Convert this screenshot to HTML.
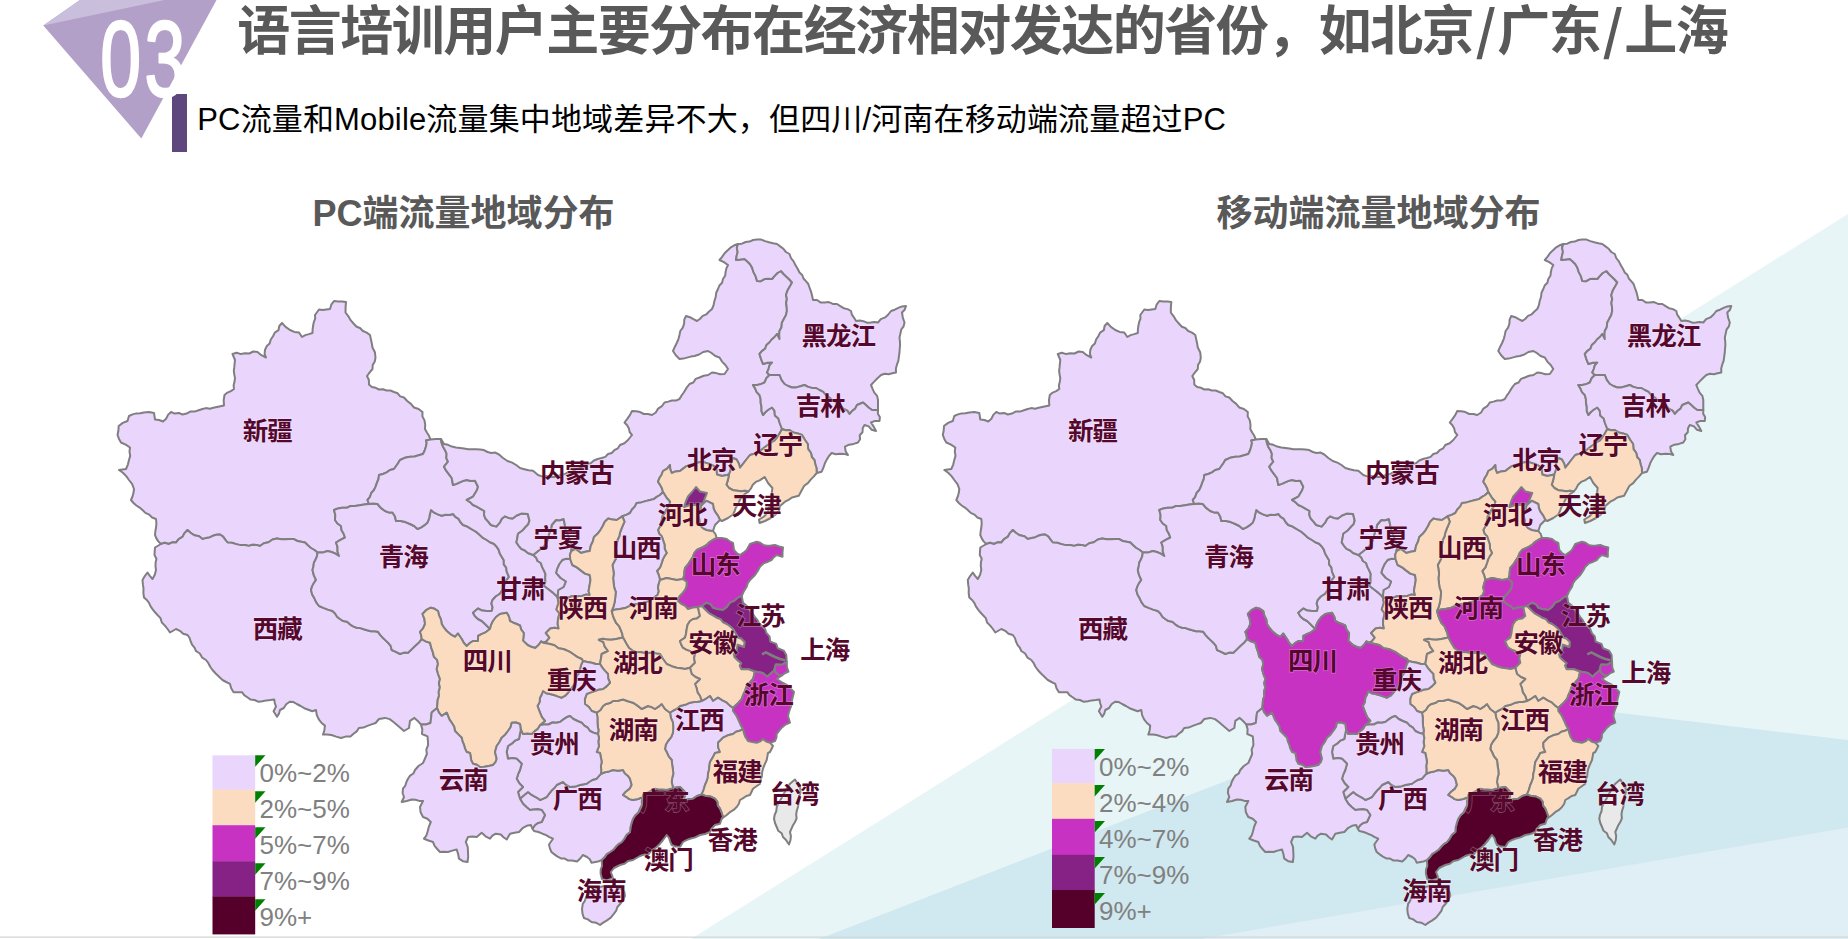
<!DOCTYPE html>
<html lang="zh-CN"><head><meta charset="utf-8"><title>语言培训用户地域分布</title>
<style>
html,body{margin:0;padding:0;background:#fff}
body{width:1848px;height:939px;position:relative;overflow:hidden;font-family:"Liberation Sans","Noto Sans CJK SC",sans-serif}
svg{position:absolute;left:0;top:0}
.lb text{letter-spacing:-1px;font:700 25.5px "Liberation Sans","Noto Sans CJK SC",sans-serif;fill:#55082b;text-anchor:middle;paint-order:stroke;stroke:rgba(255,255,255,.28);stroke-width:1.6px}
.lg{font:26px "Liberation Sans","Noto Sans CJK SC",sans-serif;fill:#808080}
#title{position:absolute;left:237.3px;top:-11.5px;font-size:53px;font-weight:700;color:#595959;white-space:nowrap;line-height:76px;letter-spacing:-1.5px}
#sub{position:absolute;left:197.3px;top:98px;font-size:31px;letter-spacing:.15px;color:#000;white-space:nowrap;line-height:44px}
.sl{display:inline-block;width:24px;text-align:center;font-family:"Noto Sans CJK SC",sans-serif}
.mt{position:absolute;top:191.2px;font-size:36px;font-weight:700;color:#595959;white-space:nowrap;line-height:46px;transform:translateX(-50%)}
</style></head><body>
<svg width="1848" height="939" viewBox="0 0 1848 939">
<polygon points="691,939 1848,214 1848,939" fill="#e7f5f7"/>
<polygon points="819,939 1452,693 1848,740 1848,939" fill="#d0e8ef"/>
<polygon points="1201,939 1848,827.5 1848,939" fill="#e0eef6"/>
<rect x="0" y="936.5" width="1848" height="1.3" fill="#d6d6d6"/>
<polygon points="43.3,25.5 80,0 216.5,0 141.3,138.5" fill="#b2a0c8"/>
<polygon points="43.3,25.5 80,0 164.5,0" fill="#c9bedb"/>
<rect x="172" y="94" width="15" height="58" fill="#5e477c"/>
<text x="0" y="96.4" transform="translate(100.3,0) scale(0.68,1)" font-family="Liberation Sans,sans-serif" font-size="108" letter-spacing="4.9" fill="#fff" stroke="#fff" stroke-width="2.2" vector-effect="non-scaling-stroke" stroke-linejoin="round">03</text>
<g transform="translate(0,0)" stroke="#7f7f7f" stroke-width="2" stroke-linejoin="round">
<path fill="#ead5fd" d="M161.0,544.0 158.3,541.4 156.4,538.4 155.0,535.0 155.4,531.0 156.1,527.0 156.4,523.0 156.0,519.0 152.1,517.5 149.2,514.6 145.4,512.9 142.5,510.0 139.6,507.6 136.4,505.5 133.5,503.0 131.0,500.0 132.5,496.5 133.5,492.8 134.0,489.0 132.2,484.1 129.0,480.0 126.2,476.1 122.9,472.7 119.0,470.0 126.0,469.0 127.9,464.6 129.0,460.0 130.2,455.9 129.5,451.7 130.0,447.5 125.7,444.6 121.0,442.5 119.0,438.9 117.5,435.0 118.4,430.5 118.7,426.0 122.8,422.9 127.5,421.0 129.0,416.0 132.6,414.4 136.3,413.4 140.2,413.3 144.0,412.5 149.0,412.1 154.0,413.0 155.0,419.5 159.1,420.0 163.0,421.5 166.1,418.7 168.0,414.9 171.0,412.0 174.7,413.6 178.8,412.9 182.5,414.5 186.6,413.6 190.3,411.6 194.6,411.6 198.6,410.3 202.5,409.0 206.0,408.1 209.8,408.7 213.3,407.8 216.9,407.0 220.4,406.3 224.0,405.5 223.7,400.2 224.5,395.0 227.4,392.6 230.9,391.1 234.0,389.0 233.6,385.4 234.5,381.8 235.0,378.1 234.3,374.5 233.8,370.8 234.3,367.2 234.6,363.6 235.0,360.0 232.5,354.0 236.6,352.8 240.9,354.1 245.0,353.3 249.2,353.5 253.3,351.5 257.5,352.0 261.4,355.2 266.0,357.5 264.6,353.9 265.0,350.0 266.6,346.3 269.6,343.5 270.8,339.5 273.0,336.2 274.8,332.6 278.5,330.2 279.3,326.0 282.0,323.0 285.6,326.9 290.0,330.0 294.3,331.9 299.0,332.5 302.0,337.0 305.3,335.1 308.9,334.1 312.5,333.0 312.6,329.3 313.1,325.7 313.8,322.2 315.2,318.7 315.0,315.0 319.0,309.5 322.7,310.1 326.3,309.5 330.0,309.0 331.3,304.7 334.0,301.0 338.0,301.5 342.0,301.6 346.0,302.0 345.6,307.2 345.5,312.5 348.4,316.3 350.8,320.4 354.0,324.0 356.6,326.7 360.0,328.0 362.9,331.0 366.7,332.6 370.0,335.0 370.9,339.2 371.8,343.3 372.5,347.5 374.9,352.2 375.5,357.5 374.8,361.4 372.7,365.0 372.5,369.0 369.7,372.4 367.0,376.0 368.9,380.0 369.0,384.5 371.9,387.0 375.7,387.8 379.0,389.5 382.9,389.2 386.5,390.5 390.4,390.5 394.0,392.0 397.6,393.3 400.2,396.4 404.0,397.5 407.2,401.0 410.9,403.9 414.0,407.5 418.6,409.0 422.5,412.0 422.4,416.4 424.5,420.4 425.2,424.6 425.0,429.0 426.9,432.5 429.0,435.8 430.5,439.5 426.0,440.5 426.7,443.0 425.9,446.8 424.7,450.5 423.0,454.0 418.7,455.2 414.5,456.5 410.0,456.7 404.8,457.8 400.0,460.0 398.2,463.1 396.1,466.0 394.0,469.0 390.0,470.0 386.7,472.4 383.0,474.0 379.0,475.0 378.5,479.0 377.0,482.7 375.7,486.4 374.0,490.0 371.3,493.0 370.0,496.9 367.5,500.0 369.0,504.0 364.3,504.4 359.7,505.3 355.0,506.0 350.6,506.0 346.6,507.8 342.3,507.8 338.0,508.4 334.0,510.0 335.3,514.9 335.0,520.0 337.5,523.5 341.0,526.0 341.5,530.1 343.6,533.7 345.0,537.5 340.4,539.8 336.0,542.5 337.5,546.9 337.5,551.6 339.0,556.0 335.4,553.7 331.6,552.0 327.5,551.0 322.6,552.6 317.5,552.5 314.4,550.0 310.9,548.0 307.8,545.3 305.0,542.5 301.2,541.7 297.4,541.0 293.9,539.1 290.0,539.0 285.6,539.2 281.3,539.3 276.9,538.6 272.5,539.5 268.6,542.2 263.9,543.3 260.0,546.0 256.3,544.9 252.5,544.8 248.7,545.9 245.0,545.0 240.5,545.1 236.2,544.1 231.9,542.7 227.5,542.5 225.2,539.6 223.1,536.6 220.0,534.5 216.3,534.8 212.9,535.8 209.5,537.4 206.0,538.1 202.5,539.0 199.1,536.2 194.5,535.3 190.8,533.0 187.5,530.0 184.6,533.1 182.4,536.9 178.7,539.2 176.0,542.5 172.2,542.3 168.6,544.0 164.7,542.8Z"/>
<path fill="#ead5fd" d="M161.0,544.0 164.7,542.8 168.6,544.0 172.2,542.3 176.0,542.5 178.7,539.2 182.4,536.9 184.6,533.1 187.5,530.0 190.8,533.0 194.5,535.3 199.1,536.2 202.5,539.0 206.0,538.1 209.5,537.4 212.9,535.8 216.3,534.8 220.0,534.5 223.1,536.6 225.2,539.6 227.5,542.5 231.9,542.7 236.2,544.1 240.5,545.1 245.0,545.0 248.7,545.9 252.5,544.8 256.3,544.9 260.0,546.0 263.9,543.3 268.6,542.2 272.5,539.5 276.9,538.6 281.3,539.3 285.6,539.2 290.0,539.0 293.9,539.1 297.4,541.0 301.2,541.7 305.0,542.5 307.8,545.3 310.9,548.0 314.4,550.0 317.5,552.5 317.0,556.2 315.6,559.5 313.9,562.8 313.4,566.5 312.5,570.0 313.8,575.2 316.0,580.0 313.8,583.1 312.1,586.4 311.0,590.0 312.2,594.4 314.4,598.3 316.3,602.4 319.0,606.0 323.4,607.9 327.9,609.6 332.5,611.0 335.1,613.5 337.1,616.7 340.0,619.0 343.2,621.1 347.1,621.7 350.0,624.3 353.1,626.4 356.7,627.7 360.3,628.1 363.7,629.3 367.2,630.3 370.8,631.2 374.4,631.2 378.0,631.8 380.2,634.8 382.6,637.6 385.3,640.1 388.0,642.7 390.7,645.9 391.7,650.0 395.9,651.8 400.0,654.0 403.9,652.6 408.0,652.7 411.5,649.4 415.0,646.0 418.6,642.8 421.7,639.0 425.6,641.4 430.0,642.7 431.3,647.8 433.0,652.7 433.9,656.8 437.1,659.9 438.0,664.0 436.7,669.0 438.1,674.1 440.0,679.0 438.9,683.2 439.9,687.5 438.7,691.7 439.0,696.0 437.7,699.9 437.4,704.0 437.0,708.0 431.7,712.5 431.1,717.8 430.5,723.0 425.8,724.5 420.9,724.4 417.8,721.0 414.4,717.9 410.0,720.9 409.0,728.0 404.0,731.0 400.5,728.0 397.0,725.0 393.5,722.0 389.7,719.1 385.0,717.9 379.0,719.0 375.6,723.0 371.5,724.4 367.4,725.9 363.3,727.6 358.9,728.0 356.7,731.4 353.5,733.8 350.5,736.4 345.6,736.6 341.0,738.0 336.2,736.6 331.4,735.0 327.2,734.4 323.0,734.6 324.4,730.2 324.9,725.6 321.6,723.0 319.0,719.7 316.8,715.1 316.0,710.0 312.3,711.3 308.3,709.7 304.3,708.2 300.6,706.0 296.8,704.0 293.5,702.1 289.7,701.8 286.2,704.3 283.8,708.0 280.0,710.0 279.0,713.6 277.0,716.7 273.6,711.3 276.0,706.5 274.8,703.0 274.2,699.4 270.3,700.1 266.4,700.4 262.5,701.3 258.6,701.8 254.6,700.0 250.3,699.4 247.3,697.3 244.2,695.2 242.0,692.2 237.8,692.2 233.6,692.2 231.2,688.3 230.0,683.9 226.2,682.0 222.5,680.0 219.1,676.7 215.7,673.5 212.5,670.0 210.2,666.7 208.4,663.2 206.0,660.0 202.1,657.6 199.8,653.5 196.0,651.0 194.5,647.7 192.2,644.8 190.7,641.5 189.6,638.0 187.5,635.0 183.2,633.8 179.9,630.8 176.0,629.0 170.0,632.5 167.6,629.0 164.9,625.6 161.8,622.5 160.5,618.1 157.5,615.0 155.0,612.3 152.7,609.4 150.6,606.4 149.0,602.9 146.8,600.0 144.0,597.5 143.4,593.1 143.5,588.7 142.9,584.4 142.5,580.0 144.8,576.1 147.5,572.5 149.8,575.9 152.5,579.0 154.8,574.7 156.0,570.0 155.5,566.3 155.6,562.5 156.4,558.7 154.5,555.0 154.7,551.3 155.0,547.5Z"/>
<path fill="#ead5fd" d="M317.5,552.5 322.6,552.6 327.5,551.0 331.6,552.0 335.4,553.7 339.0,556.0 337.5,551.6 337.5,546.9 336.0,542.5 340.4,539.8 345.0,537.5 343.6,533.7 341.5,530.1 341.0,526.0 337.5,523.5 335.0,520.0 335.3,514.9 334.0,510.0 338.0,508.4 342.3,507.8 346.6,507.8 350.6,506.0 355.0,506.0 359.7,505.3 364.3,504.4 369.0,504.0 373.2,503.4 377.5,504.0 380.8,507.9 385.0,511.0 388.6,512.4 392.5,512.5 395.0,516.5 396.0,521.0 400.9,521.1 405.5,522.1 410.0,524.0 414.1,526.0 417.5,529.0 421.2,527.4 424.5,525.2 427.5,522.5 429.1,518.4 429.9,514.2 431.0,510.0 434.2,512.7 437.8,514.4 441.7,515.8 445.4,514.7 449.3,515.0 453.0,514.0 455.4,516.9 458.6,518.9 460.5,522.3 463.0,525.0 466.6,526.2 469.8,528.1 473.0,530.0 476.6,532.2 479.8,535.1 483.0,537.9 486.7,540.0 490.0,542.3 493.8,543.8 496.7,546.7 498.7,549.9 499.8,553.5 501.7,556.7 503.8,560.2 503.8,564.3 506.2,567.7 506.7,571.7 509.0,577.0 506.7,579.9 505.3,583.3 503.4,586.4 502.5,590.0 499.8,593.9 495.7,596.5 492.5,600.0 491.4,603.6 492.6,607.4 491.7,611.0 486.7,611.0 482.1,610.6 478.0,608.5 473.0,612.7 475.0,616.2 478.0,619.0 481.8,621.0 485.0,624.0 490.0,629.0 485.0,632.7 481.4,634.2 478.0,636.0 478.0,641.0 473.0,641.0 469.6,643.2 466.7,646.0 463.7,642.8 461.7,639.0 458.0,633.5 455.0,636.8 450.6,634.3 446.7,631.0 444.0,627.7 441.7,624.0 441.0,619.5 439.0,615.4 438.0,611.0 434.6,608.8 430.8,607.7 426.1,610.2 422.5,614.0 424.4,618.8 425.0,624.0 423.1,628.3 420.0,631.8 421.2,635.3 421.7,639.0 418.6,642.8 415.0,646.0 411.5,649.4 408.0,652.7 403.9,652.6 400.0,654.0 395.9,651.8 391.7,650.0 390.7,645.9 388.0,642.7 385.3,640.1 382.6,637.6 380.2,634.8 378.0,631.8 374.4,631.2 370.8,631.2 367.2,630.3 363.7,629.3 360.3,628.1 356.7,627.7 353.1,626.4 350.0,624.3 347.1,621.7 343.2,621.1 340.0,619.0 337.1,616.7 335.1,613.5 332.5,611.0 327.9,609.6 323.4,607.9 319.0,606.0 316.3,602.4 314.4,598.3 312.2,594.4 311.0,590.0 312.1,586.4 313.8,583.1 316.0,580.0 313.8,575.2 312.5,570.0 313.4,566.5 313.9,562.8 315.6,559.5 317.0,556.2Z"/>
<path fill="#ead5fd" d="M369.0,504.0 367.5,500.0 370.0,496.9 371.3,493.0 374.0,490.0 375.7,486.4 377.0,482.7 378.5,479.0 379.0,475.0 383.0,474.0 386.7,472.4 390.0,470.0 394.0,469.0 396.1,466.0 398.2,463.1 400.0,460.0 404.8,457.8 410.0,456.7 414.5,456.5 418.7,455.2 423.0,454.0 424.7,450.5 425.9,446.8 426.7,443.0 426.0,440.5 430.5,439.5 435.7,439.1 441.0,439.0 441.6,443.0 443.0,446.7 445.1,450.2 446.6,453.9 446.3,458.1 448.0,461.7 444.0,466.7 446.2,470.7 449.0,474.3 451.7,478.0 453.0,485.0 456.5,483.9 459.8,482.3 463.2,480.9 466.7,480.0 470.8,480.9 475.0,480.8 478.0,486.7 476.9,490.3 474.9,493.5 473.0,496.7 466.7,500.0 470.1,502.1 473.0,505.0 476.7,506.7 480.5,508.8 484.3,511.0 484.0,514.9 485.4,518.5 488.2,521.7 490.9,525.0 496.3,526.6 500.0,522.3 501.8,518.7 505.0,516.3 508.6,517.9 512.6,518.5 516.7,515.5 521.3,513.6 527.8,514.0 529.4,520.6 528.3,524.3 525.6,527.0 522.2,530.8 518.0,533.7 517.3,538.1 516.4,542.4 518.7,545.8 521.3,548.9 524.9,550.5 527.8,553.0 533.2,555.0 536.0,557.4 537.6,561.0 540.8,563.0 542.1,566.9 544.0,570.6 545.5,574.2 545.2,578.0 545.4,582.0 544.0,585.8 549.5,590.0 552.9,592.6 556.0,595.6 557.5,597.0 558.6,602.7 556.4,609.5 559.4,613.3 557.9,620.0 557.7,624.3 558.6,628.5 554.5,627.7 550.3,628.5 545.8,633.0 549.5,637.6 546.5,641.4 543.0,642.7 541.2,641.4 538.6,645.0 535.2,648.0 531.3,646.8 527.6,645.0 523.0,640.6 523.5,636.8 523.8,633.0 521.2,629.6 520.0,625.5 516.7,624.0 513.3,622.7 510.0,621.0 508.9,616.6 506.7,612.7 500.0,614.0 496.0,617.0 493.0,621.0 491.1,624.9 490.0,629.0 485.0,624.0 481.8,621.0 478.0,619.0 475.0,616.2 473.0,612.7 478.0,608.5 482.1,610.6 486.7,611.0 491.7,611.0 492.6,607.4 491.4,603.6 492.5,600.0 495.7,596.5 499.8,593.9 502.5,590.0 503.4,586.4 505.3,583.3 506.7,579.9 509.0,577.0 506.7,571.7 506.2,567.7 503.8,564.3 503.8,560.2 501.7,556.7 499.8,553.5 498.7,549.9 496.7,546.7 493.8,543.8 490.0,542.3 486.7,540.0 483.0,537.9 479.8,535.1 476.6,532.2 473.0,530.0 469.8,528.1 466.6,526.2 463.0,525.0 460.5,522.3 458.6,518.9 455.4,516.9 453.0,514.0 449.3,515.0 445.4,514.7 441.7,515.8 437.8,514.4 434.2,512.7 431.0,510.0 429.9,514.2 429.1,518.4 427.5,522.5 424.5,525.2 421.2,527.4 417.5,529.0 414.1,526.0 410.0,524.0 405.5,522.1 400.9,521.1 396.0,521.0 395.0,516.5 392.5,512.5 388.6,512.4 385.0,511.0 380.8,507.9 377.5,504.0 373.2,503.4Z"/>
<path fill="#ead5fd" d="M570.2,559.0 566.4,558.8 562.6,559.7 559.3,564.0 557.3,568.3 556.0,572.8 560.4,578.0 565.8,581.5 563.6,587.0 558.2,590.0 557.5,597.0 559.4,598.0 563.6,597.8 567.8,597.7 571.8,596.3 576.0,596.3 582.0,596.0 585.7,594.6 589.7,595.0 588.6,591.0 589.7,584.7 590.5,579.9 589.7,575.0 585.0,573.6 581.0,570.6 576.9,567.4 572.3,565.0Z"/>
<path fill="#ead5fd" d="M533.2,555.0 538.7,550.5 542.2,548.1 545.0,545.0 547.0,541.7 548.0,538.0 549.5,532.6 551.1,529.0 551.7,525.0 556.0,520.0 559.9,520.3 563.6,519.0 564.7,524.0 565.2,527.8 566.4,531.5 568.0,535.0 569.8,540.1 572.0,545.0 571.3,551.0 569.9,554.9 570.2,559.0 566.4,558.8 562.6,559.7 559.3,564.0 557.3,568.3 556.0,572.8 560.4,578.0 565.8,581.5 563.6,587.0 558.2,590.0 557.5,597.0 556.0,595.6 552.9,592.6 549.5,590.0 544.0,585.8 545.4,582.0 545.2,578.0 545.5,574.2 544.0,570.6 542.1,566.9 540.8,563.0 537.6,561.0 536.0,557.4Z"/>
<path fill="#ead5fd" d="M441.0,439.0 444.0,444.0 448.0,444.8 451.9,446.6 455.9,447.4 460.0,448.0 464.0,448.6 467.9,449.3 472.0,449.3 476.0,449.2 480.0,449.5 483.9,450.1 487.5,452.0 491.3,453.0 495.4,452.6 499.0,454.5 503.0,458.0 507.5,461.0 512.1,462.6 516.2,465.0 520.0,468.0 524.3,469.2 528.6,470.3 533.0,470.8 538.0,475.0 541.9,476.4 546.1,475.9 550.0,477.0 553.9,476.9 557.7,476.4 561.2,474.5 565.0,474.0 568.4,471.9 572.5,471.5 575.8,469.3 579.8,468.4 583.0,466.0 586.5,463.9 590.7,463.2 593.9,460.5 597.7,459.0 601.7,458.0 605.3,456.9 608.0,454.0 611.7,453.0 614.3,450.2 617.9,448.3 620.0,445.0 624.4,443.2 628.0,440.0 632.0,435.0 629.7,432.2 628.9,428.4 627.1,425.2 624.5,422.5 627.3,418.9 629.9,415.1 632.0,411.0 636.1,411.2 640.1,412.1 643.9,414.0 648.0,414.0 652.0,415.0 655.8,412.5 658.1,408.6 661.9,406.2 664.5,402.5 668.2,401.6 671.9,400.5 675.9,400.6 679.5,399.0 681.3,395.9 683.4,393.0 685.3,389.9 687.3,386.8 689.5,384.0 693.3,382.5 695.7,378.9 699.5,377.5 703.7,375.8 708.2,375.0 712.0,372.5 716.2,373.1 720.2,374.3 724.5,374.0 728.0,369.0 725.4,365.0 722.0,361.6 719.5,357.5 715.3,356.0 711.8,353.2 708.0,351.0 703.2,352.0 699.1,354.5 694.5,356.0 690.7,356.6 687.0,357.6 683.3,358.6 679.5,359.0 675.8,355.3 673.0,351.0 674.9,346.7 677.0,342.5 678.5,338.8 679.5,334.9 680.3,331.0 682.8,327.6 684.1,323.8 684.3,319.6 686.0,316.0 689.9,317.2 693.4,319.2 697.0,321.0 700.1,318.7 702.7,315.9 706.4,314.3 709.1,311.5 712.0,309.0 713.6,305.1 714.4,301.0 715.7,297.0 716.2,292.8 718.0,289.0 719.4,285.5 722.1,282.7 723.0,279.0 725.1,275.8 725.6,272.0 726.4,268.4 728.0,265.0 723.9,262.2 719.5,260.0 722.3,256.6 724.8,253.0 728.0,250.0 730.9,247.3 734.3,245.3 738.0,244.0 736.8,247.9 737.7,252.1 736.6,256.0 736.0,260.0 740.3,259.6 744.5,259.0 747.4,261.5 750.1,264.2 752.0,267.5 753.5,272.1 755.7,276.4 757.0,281.0 760.8,281.2 764.4,279.1 768.2,278.8 772.0,279.0 774.6,275.9 777.4,273.0 781.0,271.0 783.6,274.0 786.5,276.7 789.4,279.5 792.0,282.5 789.8,286.6 787.5,290.6 786.0,295.0 786.9,299.0 786.1,303.0 786.7,307.0 786.9,311.0 786.0,315.0 784.0,318.8 781.9,322.7 781.5,327.2 779.5,331.0 779.2,335.0 779.5,339.0 777.0,334.0 774.6,337.0 771.7,339.5 769.4,342.5 766.5,345.0 765.1,348.8 761.9,351.1 759.5,354.0 761.1,359.1 763.0,364.0 767.4,362.7 772.0,362.5 769.5,365.4 768.5,369.1 767.0,372.5 769.5,375.0 766.3,378.3 764.5,382.5 760.8,384.1 757.0,385.0 753.0,385.0 755.1,388.4 756.7,392.1 759.5,395.0 760.6,398.9 760.7,403.0 761.5,407.0 761.5,411.1 763.0,415.0 765.5,412.0 768.6,409.5 772.0,407.5 774.5,410.9 774.9,415.4 778.4,418.4 779.5,422.5 782.0,429.0 779.7,433.4 777.0,437.5 774.5,440.5 771.1,442.3 768.1,444.7 765.0,447.0 761.0,450.2 756.7,453.0 750.0,455.0 746.0,460.0 743.0,463.8 740.0,467.7 738.8,463.4 736.6,459.5 733.0,458.0 731.0,463.0 730.7,470.0 729.0,474.5 722.0,476.0 717.0,474.5 716.2,468.5 713.5,465.8 710.0,464.0 705.1,462.6 700.0,462.0 695.0,463.5 690.0,465.0 686.3,466.3 683.1,468.6 680.0,471.0 675.7,471.4 671.7,473.0 670.2,469.1 670.0,465.0 667.1,468.7 663.0,471.0 661.6,474.7 659.5,478.0 658.0,481.7 660.1,484.9 661.9,488.3 663.0,492.0 660.0,495.0 656.8,496.9 653.7,499.1 650.0,500.0 645.6,501.1 641.2,502.4 636.7,503.0 634.8,506.6 632.0,509.5 630.0,513.0 626.3,514.9 622.3,516.3 616.7,520.0 612.4,519.6 608.2,518.5 604.8,521.8 602.8,526.0 600.4,530.1 597.5,533.8 594.0,537.0 592.8,541.5 590.8,545.6 589.7,551.0 585.3,551.8 581.0,553.0 575.6,548.9 571.3,551.0 572.0,545.0 569.8,540.1 568.0,535.0 566.4,531.5 565.2,527.8 564.7,524.0 563.6,519.0 559.9,520.3 556.0,520.0 551.7,525.0 551.1,529.0 549.5,532.6 548.0,538.0 547.0,541.7 545.0,545.0 542.2,548.1 538.7,550.5 533.2,555.0 527.8,553.0 524.9,550.5 521.3,548.9 518.7,545.8 516.4,542.4 517.3,538.1 518.0,533.7 522.2,530.8 525.6,527.0 528.3,524.3 529.4,520.6 527.8,514.0 521.3,513.6 516.7,515.5 512.6,518.5 508.6,517.9 505.0,516.3 501.8,518.7 500.0,522.3 496.3,526.6 490.9,525.0 488.2,521.7 485.4,518.5 484.0,514.9 484.3,511.0 480.5,508.8 476.7,506.7 473.0,505.0 470.1,502.1 466.7,500.0 473.0,496.7 474.9,493.5 476.9,490.3 478.0,486.7 475.0,480.8 470.8,480.9 466.7,480.0 463.2,480.9 459.8,482.3 456.5,483.9 453.0,485.0 451.7,478.0 449.0,474.3 446.2,470.7 444.0,466.7 448.0,461.7 446.3,458.1 446.6,453.9 445.1,450.2 443.0,446.7 441.6,443.0Z"/>
<path fill="#ead5fd" d="M738.0,244.0 741.9,243.7 745.6,242.0 749.5,241.6 753.1,240.0 757.0,239.5 761.2,239.6 765.0,241.1 769.0,242.3 773.0,243.3 777.0,244.0 780.2,246.4 783.4,248.8 786.0,252.0 789.5,254.0 790.9,258.0 793.6,261.4 795.4,265.1 797.6,268.7 799.5,272.5 802.2,275.0 803.5,278.5 805.9,281.2 808.3,284.0 809.5,287.5 811.0,291.6 812.1,295.8 813.0,300.0 817.0,300.0 820.5,302.4 824.5,302.5 828.8,302.1 832.8,303.9 837.0,304.0 840.3,306.1 843.7,308.2 847.6,309.1 851.0,311.0 851.9,314.7 854.1,317.8 856.0,321.0 859.7,320.4 863.4,321.2 866.9,322.7 870.6,322.4 874.3,322.0 878.0,322.5 880.8,319.1 885.1,317.4 888.3,314.5 891.0,311.0 894.7,309.7 898.3,307.9 902.0,306.4 906.0,306.0 904.7,309.7 902.0,312.5 902.8,317.6 904.5,322.5 903.6,326.4 901.2,329.7 900.4,333.6 899.5,337.5 899.9,341.2 900.1,345.0 899.7,348.8 899.5,352.5 898.9,356.5 898.4,360.6 897.0,364.4 895.9,368.4 896.0,372.5 892.3,373.2 888.6,374.2 884.7,373.8 881.0,375.0 877.5,378.2 874.2,381.6 871.0,385.0 872.6,388.8 874.3,392.6 877.1,395.9 878.0,400.0 878.0,405.0 878.0,410.0 872.0,410.0 868.8,407.8 865.9,405.1 863.0,402.5 857.0,405.0 855.2,408.6 852.1,411.0 849.5,414.0 847.3,410.6 843.6,408.9 841.0,406.0 837.9,404.1 835.3,401.5 832.0,400.0 829.0,397.3 825.8,395.0 823.2,391.8 819.5,390.0 816.0,388.0 811.9,387.9 808.0,386.9 804.5,385.0 800.4,386.3 796.3,387.4 792.0,387.5 788.1,386.0 784.5,384.0 781.4,379.8 779.5,375.0 774.5,374.9 769.5,375.0 767.0,372.5 768.5,369.1 769.5,365.4 772.0,362.5 767.4,362.7 763.0,364.0 761.1,359.1 759.5,354.0 761.9,351.1 765.1,348.8 766.5,345.0 769.4,342.5 771.7,339.5 774.6,337.0 777.0,334.0 779.5,339.0 779.2,335.0 779.5,331.0 781.5,327.2 781.9,322.7 784.0,318.8 786.0,315.0 786.9,311.0 786.7,307.0 786.1,303.0 786.9,299.0 786.0,295.0 787.5,290.6 789.8,286.6 792.0,282.5 789.4,279.5 786.5,276.7 783.6,274.0 781.0,271.0 777.4,273.0 774.6,275.9 772.0,279.0 768.2,278.8 764.4,279.1 760.8,281.2 757.0,281.0 755.7,276.4 753.5,272.1 752.0,267.5 750.1,264.2 747.4,261.5 744.5,259.0 740.3,259.6 736.0,260.0 736.6,256.0 737.7,252.1 736.8,247.9Z"/>
<path fill="#ead5fd" d="M769.5,375.0 774.5,374.9 779.5,375.0 781.4,379.8 784.5,384.0 788.1,386.0 792.0,387.5 796.3,387.4 800.4,386.3 804.5,385.0 808.0,386.9 811.9,387.9 816.0,388.0 819.5,390.0 823.2,391.8 825.8,395.0 829.0,397.3 832.0,400.0 835.3,401.5 837.9,404.1 841.0,406.0 843.6,408.9 847.3,410.6 849.5,414.0 852.1,411.0 855.2,408.6 857.0,405.0 863.0,402.5 865.9,405.1 868.8,407.8 872.0,410.0 878.0,410.0 877.9,413.7 879.9,417.2 879.5,421.0 875.1,420.9 871.0,422.5 873.7,426.6 876.0,431.0 871.7,429.8 868.7,426.4 864.5,425.0 862.7,428.3 862.5,432.2 859.7,435.2 860.1,439.3 858.0,442.5 853.7,443.9 849.1,444.7 845.0,446.7 845.6,451.2 848.0,455.0 844.0,453.9 839.9,453.8 835.7,454.3 831.7,453.0 829.0,456.0 826.9,459.4 825.0,463.0 823.5,467.4 821.7,471.7 816.7,473.0 816.5,468.0 815.3,464.2 814.5,460.2 811.8,457.0 811.0,453.0 808.2,449.1 807.8,444.0 805.0,440.0 802.0,435.0 797.8,433.4 793.3,432.5 789.5,430.0 785.6,430.3 782.0,429.0 779.5,422.5 778.4,418.4 774.9,415.4 774.5,410.9 772.0,407.5 768.6,409.5 765.5,412.0 763.0,415.0 761.5,411.1 761.5,407.0 760.7,403.0 760.6,398.9 759.5,395.0 756.7,392.1 755.1,388.4 753.0,385.0 757.0,385.0 760.8,384.1 764.5,382.5 766.3,378.3Z"/>
<path fill="#fbdcc1" d="M729.0,474.5 730.7,470.0 731.0,463.0 733.0,458.0 736.6,459.5 738.8,463.4 740.0,467.7 743.0,463.8 746.0,460.0 750.0,455.0 756.7,453.0 761.0,450.2 765.0,447.0 768.1,444.7 771.1,442.3 774.5,440.5 777.0,437.5 779.7,433.4 782.0,429.0 785.6,430.3 789.5,430.0 793.3,432.5 797.8,433.4 802.0,435.0 805.0,440.0 807.8,444.0 808.2,449.1 811.0,453.0 811.8,457.0 814.5,460.2 815.3,464.2 816.5,468.0 816.7,473.0 813.9,476.4 810.7,479.6 807.9,483.1 804.2,485.8 802.0,489.8 798.8,495.8 792.0,497.5 788.6,499.8 785.0,501.7 780.0,506.0 779.0,511.0 775.0,515.0 770.7,518.0 765.0,521.0 759.6,523.0 759.0,519.5 764.0,516.5 768.0,512.0 768.7,508.2 771.0,505.0 771.8,500.9 773.0,497.0 771.8,492.6 772.4,488.0 768.0,483.0 764.7,477.0 759.6,480.4 755.8,481.9 752.8,484.7 751.0,488.3 748.5,491.5 744.9,490.8 741.1,491.2 737.5,490.7 733.0,490.2 729.0,488.0 726.4,484.7 728.0,479.6Z"/>
<path fill="#fbdcc1" d="M663.0,492.0 661.9,488.3 660.1,484.9 658.0,481.7 659.5,478.0 661.6,474.7 663.0,471.0 667.1,468.7 670.0,465.0 670.2,469.1 671.7,473.0 675.7,471.4 680.0,471.0 683.1,468.6 686.3,466.3 690.0,465.0 695.0,463.5 700.0,462.0 705.1,462.6 710.0,464.0 713.5,465.8 716.2,468.5 717.0,474.5 722.0,476.0 729.0,474.5 728.0,479.6 726.4,484.7 729.0,488.0 733.0,490.2 737.5,490.7 741.1,491.2 744.9,490.8 748.5,491.5 744.4,494.4 740.9,498.0 739.3,501.3 737.9,504.7 735.8,507.7 734.6,511.2 733.0,514.5 728.0,518.0 722.0,521.0 720.0,520.0 717.9,515.6 715.0,511.7 713.5,508.0 713.0,504.0 706.7,500.8 703.6,503.1 701.0,506.0 700.3,510.8 698.0,515.0 699.6,519.9 700.0,525.0 702.9,528.1 706.7,530.0 713.0,531.0 715.5,534.2 716.7,538.0 713.0,539.9 709.6,542.0 706.7,545.0 703.4,546.8 700.0,548.4 696.7,550.0 694.3,553.0 693.0,556.7 690.5,560.6 688.0,564.5 685.0,568.0 684.4,571.7 684.2,575.4 683.0,579.0 676.7,580.0 671.7,579.0 666.7,578.0 660.0,580.0 658.9,575.4 657.0,571.0 660.1,567.4 661.7,563.0 662.8,559.4 664.5,556.1 666.7,553.0 664.7,548.9 664.5,544.3 663.0,540.0 661.8,536.4 659.2,533.6 658.0,530.0 660.6,525.3 661.7,520.0 662.3,516.3 664.5,513.3 666.0,510.0 668.7,506.2 670.0,501.7 666.7,498.0Z"/>
<path fill="#ead5fd" d="M720.0,520.0 717.9,515.6 715.0,511.7 713.5,508.0 713.0,504.0 706.7,500.8 703.6,503.1 701.0,506.0 700.3,510.8 698.0,515.0 699.6,519.9 700.0,525.0 702.9,528.1 706.7,530.0 713.0,531.0 715.0,525.0Z"/>
<path fill="#ead5fd" d="M622.3,516.3 626.3,514.9 630.0,513.0 632.0,509.5 634.8,506.6 636.7,503.0 641.2,502.4 645.6,501.1 650.0,500.0 653.7,499.1 656.8,496.9 660.0,495.0 663.0,492.0 666.7,498.0 670.0,501.7 668.7,506.2 666.0,510.0 664.5,513.3 662.3,516.3 661.7,520.0 660.6,525.3 658.0,530.0 659.2,533.6 661.8,536.4 663.0,540.0 664.5,544.3 664.7,548.9 666.7,553.0 664.5,556.1 662.8,559.4 661.7,563.0 660.1,567.4 657.0,571.0 658.9,575.4 660.0,580.0 658.8,583.7 657.9,587.4 658.8,591.4 657.5,595.0 653.6,597.8 650.0,601.0 644.9,602.2 640.0,604.0 634.8,604.3 629.8,605.8 625.1,608.1 620.0,609.0 615.7,609.4 611.7,611.0 613.5,606.6 614.7,602.0 615.3,597.0 615.8,592.0 614.2,587.4 613.6,582.6 613.1,578.2 613.8,573.8 613.2,569.4 612.5,565.0 615.8,558.7 616.5,554.9 616.4,551.1 616.1,547.3 616.9,543.5 617.6,539.8 619.3,536.3 620.0,532.6 621.4,528.9 622.9,525.3 624.5,521.7Z"/>
<path fill="#fbdcc1" d="M571.3,551.0 575.6,548.9 581.0,553.0 585.3,551.8 589.7,551.0 590.8,545.6 592.8,541.5 594.0,537.0 597.5,533.8 600.4,530.1 602.8,526.0 604.8,521.8 608.2,518.5 612.4,519.6 616.7,520.0 622.3,516.3 624.5,521.7 622.9,525.3 621.4,528.9 620.0,532.6 619.3,536.3 617.6,539.8 616.9,543.5 616.1,547.3 616.4,551.1 616.5,554.9 615.8,558.7 612.5,565.0 613.2,569.4 613.8,573.8 613.1,578.2 613.6,582.6 614.2,587.4 615.8,592.0 615.3,597.0 614.7,602.0 613.5,606.6 611.7,611.0 613.2,616.4 614.6,619.8 616.2,623.0 619.1,626.1 620.8,630.0 622.2,633.7 623.0,637.6 616.2,639.0 611.0,639.8 607.1,639.6 603.3,638.7 598.8,639.8 603.3,642.0 604.8,646.7 608.0,651.0 601.7,654.0 600.9,659.0 600.0,664.0 595.7,664.0 591.7,662.7 587.3,661.9 583.0,661.0 581.7,659.0 577.1,656.9 573.0,654.0 569.9,651.9 566.5,650.3 563.0,649.0 558.4,648.2 554.5,645.3 550.0,644.0 543.0,642.7 546.5,641.4 549.5,637.6 545.8,633.0 550.3,628.5 554.5,627.7 558.6,628.5 557.7,624.3 557.9,620.0 559.4,613.3 556.4,609.5 558.6,602.7 557.5,597.0 559.4,598.0 563.6,597.8 567.8,597.7 571.8,596.3 576.0,596.3 582.0,596.0 585.7,594.6 589.7,595.0 588.6,591.0 589.7,584.7 590.5,579.9 589.7,575.0 585.0,573.6 581.0,570.6 576.9,567.4 572.3,565.0 570.2,559.0 569.9,554.9Z"/>
<path fill="#c832c3" d="M683.0,579.0 684.2,575.4 684.4,571.7 685.0,568.0 688.0,564.5 690.5,560.6 693.0,556.7 694.3,553.0 696.7,550.0 700.0,548.4 703.4,546.8 706.7,545.0 709.6,542.0 713.0,539.9 716.7,538.0 721.8,538.0 726.7,539.0 729.7,541.3 733.0,543.0 734.0,550.0 736.6,553.0 740.0,555.0 743.5,552.7 746.7,550.0 750.0,544.0 756.7,541.7 760.2,542.7 763.2,544.9 766.7,545.8 770.9,545.6 775.0,545.0 778.9,546.5 783.0,547.5 782.5,552.1 782.5,556.7 776.7,555.0 773.8,557.2 771.4,560.1 768.0,561.7 763.5,563.4 760.0,566.7 757.7,570.9 755.0,575.0 750.0,580.0 747.8,583.1 746.7,586.7 743.9,591.2 741.7,596.0 738.0,597.7 734.4,600.8 730.0,602.7 727.0,606.9 723.0,610.0 716.7,609.0 712.9,607.7 710.4,604.2 706.7,602.7 701.7,606.0 698.0,607.0 692.9,607.5 688.0,609.0 685.1,605.8 681.2,603.8 678.0,601.0 677.5,600.0 679.4,596.2 682.4,593.2 685.0,590.0 686.5,586.1 686.7,582.0Z"/>
<path fill="#fbdcc1" d="M660.0,580.0 666.7,578.0 671.7,579.0 676.7,580.0 683.0,579.0 686.7,582.0 686.5,586.1 685.0,590.0 682.4,593.2 679.4,596.2 677.5,600.0 678.0,601.0 681.2,603.8 685.1,605.8 688.0,609.0 692.9,607.5 698.0,607.0 698.9,611.5 700.0,616.0 697.0,618.4 693.2,619.0 690.0,621.0 687.6,624.7 686.7,629.0 686.1,633.4 685.0,637.7 680.0,641.0 681.2,644.5 683.0,647.7 686.4,649.6 690.0,651.0 695.0,654.0 694.1,658.4 695.0,662.7 690.0,667.7 685.0,669.0 680.9,668.3 676.7,667.7 671.6,666.2 666.7,664.0 663.0,659.0 660.0,654.0 656.3,653.6 652.5,652.8 648.8,652.9 645.0,653.0 641.0,652.2 636.9,652.1 633.0,651.0 629.0,648.0 626.0,642.9 623.0,637.6 622.2,633.7 620.8,630.0 619.1,626.1 616.2,623.0 614.6,619.8 613.2,616.4 611.7,611.0 615.7,609.4 620.0,609.0 625.1,608.1 629.8,605.8 634.8,604.3 640.0,604.0 644.9,602.2 650.0,601.0 653.6,597.8 657.5,595.0 658.8,591.4 657.9,587.4 658.8,583.7Z"/>
<path fill="#862286" d="M701.7,606.0 706.7,602.7 710.4,604.2 712.9,607.7 716.7,609.0 723.0,610.0 727.0,606.9 730.0,602.7 734.4,600.8 738.0,597.7 741.7,596.0 743.0,602.7 747.0,606.0 749.4,609.8 752.4,613.3 755.0,617.0 757.4,620.0 759.2,623.4 762.0,626.0 765.0,629.0 766.5,633.1 769.5,636.4 770.3,641.6 776.2,643.9 777.7,648.3 783.7,650.6 786.3,655.0 786.7,661.8 782.2,664.7 775.9,664.4 774.7,668.5 774.0,670.7 770.3,673.7 767.3,676.7 762.8,673.0 759.0,672.2 754.6,671.5 748.6,669.2 744.9,669.1 741.2,669.2 739.7,665.5 741.2,663.3 737.8,660.4 734.5,657.3 733.7,654.3 736.7,649.8 737.5,644.6 740.0,645.5 744.0,647.0 744.5,642.0 741.0,638.5 738.0,637.7 735.6,633.3 733.0,629.0 730.0,626.3 726.7,624.0 723.1,622.3 720.5,619.1 716.7,617.7 713.3,615.6 709.7,613.7 706.7,611.0Z"/>
<path fill="#fbdcc1" d="M698.0,607.0 701.7,606.0 706.7,611.0 709.7,613.7 713.3,615.6 716.7,617.7 720.5,619.1 723.1,622.3 726.7,624.0 730.0,626.3 733.0,629.0 735.6,633.3 738.0,637.7 741.0,638.5 744.5,642.0 744.0,647.0 740.0,645.5 737.5,644.6 736.7,649.8 733.7,654.3 734.5,657.3 737.8,660.4 741.2,663.3 739.7,665.5 741.2,669.2 744.9,669.1 748.6,669.2 754.6,671.5 754.1,675.3 753.0,679.0 749.9,682.5 746.7,686.0 745.2,690.4 743.3,694.6 741.7,699.0 738.5,702.6 735.0,706.0 733.0,708.0 729.7,705.6 726.7,702.7 722.2,700.4 718.0,697.7 713.0,701.0 710.0,696.0 706.0,698.8 701.7,701.0 700.0,696.0 697.5,692.4 696.6,688.0 695.0,684.0 700.0,679.0 695.5,677.0 691.7,674.0 690.0,667.7 695.0,662.7 694.1,658.4 695.0,654.0 690.0,651.0 686.4,649.6 683.0,647.7 681.2,644.5 680.0,641.0 685.0,637.7 686.1,633.4 686.7,629.0 687.6,624.7 690.0,621.0 693.2,619.0 697.0,618.4 700.0,616.0 698.9,611.5Z"/>
<path fill="#c832c3" d="M754.6,671.5 759.0,672.2 762.8,673.0 767.3,676.7 770.3,673.7 774.0,670.7 774.7,668.5 775.5,672.2 779.2,675.2 782.2,675.2 776.7,679.0 779.8,681.0 783.0,683.0 786.9,684.9 790.0,688.0 794.0,692.0 793.0,696.0 792.0,700.0 791.7,704.6 790.0,709.0 788.8,712.5 788.0,716.0 790.0,722.7 785.5,724.6 781.7,727.7 779.1,730.8 776.7,734.0 776.5,737.7 775.0,741.0 770.0,742.7 766.1,741.6 763.0,739.0 760.2,741.4 756.7,742.7 752.3,742.1 748.0,741.0 745.5,737.3 744.0,733.3 743.0,729.0 741.0,725.8 739.5,722.4 738.0,719.0 735.9,714.8 733.0,711.0 733.0,708.0 735.0,706.0 738.5,702.6 741.7,699.0 743.3,694.6 745.2,690.4 746.7,686.0 749.9,682.5 753.0,679.0 754.1,675.3Z"/>
<path fill="#c832c3" d="M786.7,661.8 782.2,664.7 775.9,664.4 774.7,668.5 775.5,672.2 779.2,675.2 782.2,675.2 785.2,673.0 788.5,671.5 787.0,667.7Z"/>
<path fill="#ead5fd" d="M733.0,708.0 729.7,705.6 726.7,702.7 722.2,700.4 718.0,697.7 713.0,701.0 710.0,696.0 706.0,698.8 701.7,701.0 697.8,701.7 693.9,702.1 690.0,702.7 685.2,704.8 680.0,706.0 677.0,708.7 673.3,710.5 670.0,712.7 670.9,717.9 673.0,722.7 673.2,727.7 673.0,732.7 671.2,737.2 668.0,741.0 665.8,744.7 665.0,749.0 666.7,752.0 668.6,756.4 671.7,760.0 672.2,765.0 673.0,770.0 673.3,774.1 672.2,778.0 671.7,782.0 673.0,788.0 680.0,787.0 685.0,792.0 684.8,796.2 683.0,800.0 688.0,799.3 693.0,798.7 697.0,796.0 701.7,794.5 703.6,789.8 705.0,785.0 706.6,781.4 707.8,777.7 708.0,773.7 709.0,769.9 709.4,765.9 710.0,762.0 712.7,757.6 715.0,753.0 720.0,752.0 718.2,747.5 718.0,742.7 723.0,737.7 727.8,735.3 733.0,734.0 736.0,731.7 739.7,730.8 743.0,729.0 741.0,725.8 739.5,722.4 738.0,719.0 735.9,714.8 733.0,711.0Z"/>
<path fill="#fbdcc1" d="M743.0,729.0 744.0,733.3 745.5,737.3 748.0,741.0 752.3,742.1 756.7,742.7 760.2,741.4 763.0,739.0 766.1,741.6 770.0,742.7 773.0,746.0 770.0,752.0 768.0,753.0 766.7,760.0 764.7,764.3 763.0,768.7 762.1,772.4 761.9,776.3 760.4,779.9 760.0,783.7 756.5,786.2 753.0,788.7 750.0,795.0 746.3,796.0 743.2,798.1 740.0,800.0 738.9,803.8 736.7,807.0 733.6,809.9 729.9,812.2 726.7,815.0 721.7,818.7 723.0,817.0 721.7,812.8 720.0,808.7 717.8,805.6 717.3,801.7 715.0,798.7 710.8,796.6 706.1,796.1 701.7,794.5 703.6,789.8 705.0,785.0 706.6,781.4 707.8,777.7 708.0,773.7 709.0,769.9 709.4,765.9 710.0,762.0 712.7,757.6 715.0,753.0 720.0,752.0 718.2,747.5 718.0,742.7 723.0,737.7 727.8,735.3 733.0,734.0 736.0,731.7 739.7,730.8Z"/>
<path fill="#54002b" d="M643.0,797.0 643.0,795.0 647.0,792.9 651.0,790.8 655.0,788.7 658.9,789.5 662.8,789.6 666.7,790.0 673.0,788.0 680.0,787.0 685.0,792.0 684.8,796.2 683.0,800.0 688.0,799.3 693.0,798.7 697.0,796.0 701.7,794.5 706.1,796.1 710.8,796.6 715.0,798.7 717.3,801.7 717.8,805.6 720.0,808.7 721.7,812.8 723.0,817.0 721.7,818.7 720.0,823.7 715.0,825.0 712.0,828.1 710.0,832.0 705.1,834.0 700.0,835.0 695.2,837.4 690.0,838.7 686.4,840.1 683.0,842.0 680.0,847.0 675.7,846.6 671.7,845.0 670.2,841.6 669.1,838.0 666.7,835.0 663.0,840.0 660.0,843.7 656.7,847.0 653.5,849.3 650.4,851.8 648.0,855.0 643.9,854.6 640.0,856.0 636.5,858.0 633.0,860.0 628.4,860.9 624.5,863.8 620.0,865.0 614.0,868.0 610.8,872.0 613.0,878.0 606.6,880.6 602.0,879.0 600.6,873.5 600.7,869.6 602.0,866.0 601.7,860.0 604.4,857.3 606.7,854.1 610.0,852.0 613.2,849.8 615.7,846.8 618.4,844.1 621.7,842.0 624.4,838.6 626.6,834.8 630.0,832.0 630.4,827.4 631.5,823.0 633.0,818.7 635.2,815.3 638.3,812.5 640.0,808.7 641.9,805.0 641.8,800.8Z"/>
<path fill="#ead5fd" d="M520.0,798.7 524.0,795.3 528.0,792.0 530.8,794.3 533.9,796.2 537.1,797.8 540.0,800.0 543.4,798.6 546.7,797.0 549.0,793.9 551.4,790.8 554.3,788.1 556.7,785.0 563.0,782.0 566.1,785.0 570.0,787.0 575.1,786.6 580.0,785.0 586.7,783.7 589.8,781.5 593.0,779.7 596.7,778.7 601.0,773.7 604.9,772.2 609.1,771.4 613.0,770.0 618.0,770.7 623.0,770.0 624.8,773.3 627.8,775.7 630.0,778.7 631.7,785.0 629.5,788.9 625.9,791.7 623.0,795.0 626.2,796.8 629.3,799.1 633.0,800.0 638.1,799.0 643.0,797.0 641.8,800.8 641.9,805.0 640.0,808.7 638.3,812.5 635.2,815.3 633.0,818.7 631.5,823.0 630.4,827.4 630.0,832.0 626.6,834.8 624.4,838.6 621.7,842.0 618.4,844.1 615.7,846.8 613.2,849.8 610.0,852.0 606.7,854.1 604.4,857.3 601.7,860.0 598.0,861.6 591.4,862.7 589.9,859.3 587.0,857.0 582.8,855.0 580.2,858.6 577.0,861.6 572.0,860.6 568.2,860.6 564.8,858.6 561.0,858.4 557.6,856.6 554.4,854.4 551.4,852.0 549.9,848.4 549.0,844.5 553.0,838.7 549.4,837.2 546.1,835.1 542.5,833.7 538.4,832.0 534.0,831.0 532.5,828.7 535.0,825.0 538.1,822.9 541.7,822.0 543.3,818.5 545.0,815.0 541.7,810.0 537.8,809.2 533.9,809.5 530.0,810.0 526.4,807.0 523.0,803.7Z"/>
<path fill="#fbdcc1" d="M596.7,712.7 600.5,710.0 603.0,706.0 606.1,703.9 609.9,703.1 613.0,701.0 618.1,700.7 623.0,699.5 628.0,701.2 633.0,702.7 637.5,705.6 641.7,709.0 648.0,706.0 651.7,707.1 655.0,709.0 658.5,706.7 661.7,704.0 665.0,709.0 670.0,712.7 670.9,717.9 673.0,722.7 673.2,727.7 673.0,732.7 671.2,737.2 668.0,741.0 665.8,744.7 665.0,749.0 666.7,752.0 668.6,756.4 671.7,760.0 672.2,765.0 673.0,770.0 673.3,774.1 672.2,778.0 671.7,782.0 673.0,788.0 666.7,790.0 662.8,789.6 658.9,789.5 655.0,788.7 651.0,790.8 647.0,792.9 643.0,795.0 643.0,797.0 638.1,799.0 633.0,800.0 629.3,799.1 626.2,796.8 623.0,795.0 625.9,791.7 629.5,788.9 631.7,785.0 630.0,778.7 627.8,775.7 624.8,773.3 623.0,770.0 618.0,770.7 613.0,770.0 609.1,771.4 604.9,772.2 601.0,773.7 601.2,769.8 600.9,765.9 601.7,762.0 600.9,757.5 600.0,753.0 596.7,752.0 599.0,746.0 598.3,742.0 599.0,737.9 598.0,734.0 598.5,730.2 597.8,726.5 597.5,722.7 597.5,717.7Z"/>
<path fill="#fbdcc1" d="M623.0,637.6 616.2,639.0 611.0,639.8 607.1,639.6 603.3,638.7 598.8,639.8 603.3,642.0 604.8,646.7 608.0,651.0 601.7,654.0 600.9,659.0 600.0,664.0 602.3,667.6 605.0,670.9 608.0,674.0 608.2,678.5 610.0,682.7 606.8,686.1 603.0,689.0 598.9,689.4 595.0,691.0 590.8,692.4 586.7,694.0 584.9,698.8 585.0,704.0 588.9,707.0 591.7,711.0 596.7,712.7 600.5,710.0 603.0,706.0 606.1,703.9 609.9,703.1 613.0,701.0 618.1,700.7 623.0,699.5 628.0,701.2 633.0,702.7 637.5,705.6 641.7,709.0 648.0,706.0 651.7,707.1 655.0,709.0 658.5,706.7 661.7,704.0 665.0,709.0 670.0,712.7 673.3,710.5 677.0,708.7 680.0,706.0 685.2,704.8 690.0,702.7 693.9,702.1 697.8,701.7 701.7,701.0 700.0,696.0 697.5,692.4 696.6,688.0 695.0,684.0 700.0,679.0 695.5,677.0 691.7,674.0 690.0,667.7 685.0,669.0 680.9,668.3 676.7,667.7 671.6,666.2 666.7,664.0 663.0,659.0 660.0,654.0 656.3,653.6 652.5,652.8 648.8,652.9 645.0,653.0 641.0,652.2 636.9,652.1 633.0,651.0 629.0,648.0 626.0,642.9Z"/>
<path fill="#ead5fd" d="M540.0,725.0 545.0,721.0 541.9,717.2 540.0,712.7 537.5,706.0 539.6,702.1 540.0,697.7 541.7,694.5 543.0,691.0 546.2,693.3 550.0,694.0 554.0,695.0 557.8,696.4 561.7,697.7 565.2,695.7 568.0,692.7 570.6,689.4 573.0,686.0 575.2,682.9 575.4,679.0 576.8,675.6 579.2,672.7 580.0,669.0 581.1,664.9 583.0,661.0 587.3,661.9 591.7,662.7 595.7,664.0 600.0,664.0 602.3,667.6 605.0,670.9 608.0,674.0 608.2,678.5 610.0,682.7 606.8,686.1 603.0,689.0 598.9,689.4 595.0,691.0 590.8,692.4 586.7,694.0 584.9,698.8 585.0,704.0 588.9,707.0 591.7,711.0 596.7,712.7 597.5,717.7 597.5,722.7 597.8,726.5 598.5,730.2 598.0,734.0 593.9,732.9 590.0,731.0 587.7,727.7 584.3,725.6 581.7,722.7 577.5,721.0 573.4,719.0 570.0,716.0 566.5,717.3 563.4,719.4 560.4,721.7 556.7,722.7 552.4,722.5 548.4,724.5 544.2,724.5Z"/>
<path fill="#ead5fd" d="M540.0,725.0 544.2,724.5 548.4,724.5 552.4,722.5 556.7,722.7 560.4,721.7 563.4,719.4 566.5,717.3 570.0,716.0 573.4,719.0 577.5,721.0 581.7,722.7 584.3,725.6 587.7,727.7 590.0,731.0 593.9,732.9 598.0,734.0 599.0,737.9 598.3,742.0 599.0,746.0 596.7,752.0 600.0,753.0 600.9,757.5 601.7,762.0 600.9,765.9 601.2,769.8 601.0,773.7 596.7,778.7 593.0,779.7 589.8,781.5 586.7,783.7 580.0,785.0 575.1,786.6 570.0,787.0 566.1,785.0 563.0,782.0 556.7,785.0 554.3,788.1 551.4,790.8 549.0,793.9 546.7,797.0 543.4,798.6 540.0,800.0 537.1,797.8 533.9,796.2 530.8,794.3 528.0,792.0 524.0,795.3 520.0,798.7 518.0,792.0 523.0,787.0 519.3,783.2 516.7,778.7 518.1,774.2 520.0,770.0 521.7,763.7 516.7,758.7 512.4,758.0 508.0,758.7 506.7,752.0 508.0,746.0 511.7,743.7 514.9,740.7 519.0,739.0 519.8,734.5 520.8,730.0 520.0,724.0 520.8,729.2 523.0,734.0 527.4,733.4 531.7,734.0 534.6,731.1 537.9,728.6Z"/>
<path fill="#fbdcc1" d="M421.7,639.0 421.2,635.3 420.0,631.8 423.1,628.3 425.0,624.0 424.4,618.8 422.5,614.0 426.1,610.2 430.8,607.7 434.6,608.8 438.0,611.0 439.0,615.4 441.0,619.5 441.7,624.0 444.0,627.7 446.7,631.0 450.6,634.3 455.0,636.8 458.0,633.5 461.7,639.0 463.7,642.8 466.7,646.0 469.6,643.2 473.0,641.0 478.0,641.0 478.0,636.0 481.4,634.2 485.0,632.7 490.0,629.0 491.1,624.9 493.0,621.0 496.0,617.0 500.0,614.0 506.7,612.7 508.9,616.6 510.0,621.0 513.3,622.7 516.7,624.0 520.0,625.5 521.2,629.6 523.8,633.0 523.5,636.8 523.0,640.6 527.6,645.0 531.3,646.8 535.2,648.0 538.6,645.0 541.2,641.4 543.0,642.7 550.0,644.0 554.5,645.3 558.4,648.2 563.0,649.0 566.5,650.3 569.9,651.9 573.0,654.0 577.1,656.9 581.7,659.0 583.0,661.0 581.1,664.9 580.0,669.0 579.2,672.7 576.8,675.6 575.4,679.0 575.2,682.9 573.0,686.0 570.6,689.4 568.0,692.7 565.2,695.7 561.7,697.7 557.8,696.4 554.0,695.0 550.0,694.0 546.2,693.3 543.0,691.0 541.7,694.5 540.0,697.7 539.6,702.1 537.5,706.0 540.0,712.7 541.9,717.2 545.0,721.0 540.0,725.0 537.9,728.6 534.6,731.1 531.7,734.0 527.4,733.4 523.0,734.0 520.8,729.2 520.0,724.0 516.0,722.5 511.7,722.7 510.6,727.2 508.0,731.0 505.2,734.7 501.7,737.7 499.5,742.0 496.7,746.0 495.0,752.0 496.7,758.7 495.5,762.2 493.0,765.0 488.7,766.0 484.4,766.8 480.0,767.0 476.8,764.7 473.0,763.7 471.2,760.3 470.7,756.7 470.0,753.0 466.7,752.0 465.0,748.6 464.0,744.9 462.5,741.4 461.7,737.7 458.3,734.4 455.0,731.0 454.1,726.5 451.7,722.7 449.5,719.7 448.1,716.2 446.7,712.7 441.7,716.0 438.8,712.3 437.0,708.0 437.4,704.0 437.7,699.9 439.0,696.0 438.7,691.7 439.9,687.5 438.9,683.2 440.0,679.0 438.1,674.1 436.7,669.0 438.0,664.0 437.1,659.9 433.9,656.8 433.0,652.7 431.3,647.8 430.0,642.7 425.6,641.4Z"/>
<path fill="#ead5fd" d="M420.9,724.4 425.8,724.5 430.5,723.0 431.1,717.8 431.7,712.5 437.0,708.0 438.8,712.3 441.7,716.0 446.7,712.7 448.1,716.2 449.5,719.7 451.7,722.7 454.1,726.5 455.0,731.0 458.3,734.4 461.7,737.7 462.5,741.4 464.0,744.9 465.0,748.6 466.7,752.0 470.0,753.0 470.7,756.7 471.2,760.3 473.0,763.7 476.8,764.7 480.0,767.0 484.4,766.8 488.7,766.0 493.0,765.0 495.5,762.2 496.7,758.7 495.0,752.0 496.7,746.0 499.5,742.0 501.7,737.7 505.2,734.7 508.0,731.0 510.6,727.2 511.7,722.7 516.0,722.5 520.0,724.0 520.8,730.0 519.8,734.5 519.0,739.0 514.9,740.7 511.7,743.7 508.0,746.0 506.7,752.0 508.0,758.7 512.4,758.0 516.7,758.7 521.7,763.7 520.0,770.0 518.1,774.2 516.7,778.7 519.3,783.2 523.0,787.0 518.0,792.0 520.0,798.7 523.0,803.7 526.4,807.0 530.0,810.0 533.9,809.5 537.8,809.2 541.7,810.0 545.0,815.0 543.3,818.5 541.7,822.0 538.1,822.9 535.0,825.0 532.5,828.7 530.8,825.0 526.7,825.8 523.0,827.8 519.0,832.0 514.5,832.8 510.0,833.7 506.7,839.5 503.5,837.3 500.8,834.5 495.8,833.7 492.4,835.7 490.0,838.7 485.5,836.3 481.7,832.8 476.7,837.0 472.4,836.4 468.0,837.0 465.8,842.0 467.7,846.8 468.0,852.0 468.2,857.0 467.5,862.0 462.9,861.2 459.0,858.7 458.1,854.0 456.7,849.5 452.3,850.6 448.0,852.0 444.0,851.7 440.0,852.0 437.2,849.0 434.6,845.8 433.0,842.0 428.4,840.5 424.0,838.7 426.3,835.7 427.5,832.0 428.8,826.9 430.8,822.0 427.4,818.7 423.0,817.0 420.6,812.3 420.0,807.0 423.0,801.0 419.2,800.9 415.5,799.8 411.7,799.5 406.8,801.0 401.7,802.0 404.0,797.0 402.6,793.0 403.0,788.7 405.3,785.7 406.4,782.0 408.0,778.7 410.1,775.6 413.4,773.5 415.0,770.0 418.5,766.0 423.0,763.0 425.0,758.5 426.9,754.0 426.3,749.6 428.1,745.2 427.9,740.8 427.5,736.4 422.0,734.0 422.3,729.1Z"/>
<path fill="#862286" d="M696.0,487.0 700.0,491.5 707.0,493.0 705.0,498.0 703.0,503.0 697.0,505.0 690.0,505.0 684.0,507.0 686.0,501.0 688.0,496.5 692.0,492.0Z"/>
<path fill="#ead5fd" d="M590.0,893.0 593.5,891.3 596.2,888.2 600.0,887.0 603.9,886.1 608.0,886.1 612.0,886.0 617.0,887.6 622.0,889.0 624.4,892.1 625.0,896.0 623.0,899.5 621.0,903.0 617.4,907.0 616.2,910.6 614.0,913.6 610.8,917.6 606.6,920.6 603.2,922.6 600.0,925.0 596.0,922.7 591.4,922.0 587.9,919.4 583.9,918.0 582.5,913.6 582.0,909.0 582.8,903.9 584.9,900.7 586.0,897.0Z"/>
<path fill="#e9e9e9" d="M795.0,779.5 797.0,782.7 800.0,785.0 800.2,788.7 800.5,792.4 799.5,796.0 799.2,799.7 798.5,803.3 798.0,807.0 796.8,810.7 796.2,814.4 796.6,818.4 795.0,822.0 793.0,825.2 791.5,828.6 790.0,832.0 790.9,836.0 790.5,840.0 789.0,844.5 786.0,840.0 783.0,837.0 781.6,833.2 778.2,830.7 776.7,827.0 775.0,823.0 774.0,818.7 774.7,814.8 776.3,811.0 776.7,807.0 778.6,802.9 781.0,799.0 783.0,795.0 785.2,791.2 787.4,787.3 790.0,783.7Z"/>
<path fill="none" stroke-width="2.6" d="M762.0,654.3 766.0,652.3 770.0,654.5 775.0,657.0 780.0,659.0 785.2,660.3"/>
</g>
<g transform="translate(825.3,0)" stroke="#7f7f7f" stroke-width="2" stroke-linejoin="round">
<path fill="#ead5fd" d="M161.0,544.0 158.3,541.4 156.4,538.4 155.0,535.0 155.4,531.0 156.1,527.0 156.4,523.0 156.0,519.0 152.1,517.5 149.2,514.6 145.4,512.9 142.5,510.0 139.6,507.6 136.4,505.5 133.5,503.0 131.0,500.0 132.5,496.5 133.5,492.8 134.0,489.0 132.2,484.1 129.0,480.0 126.2,476.1 122.9,472.7 119.0,470.0 126.0,469.0 127.9,464.6 129.0,460.0 130.2,455.9 129.5,451.7 130.0,447.5 125.7,444.6 121.0,442.5 119.0,438.9 117.5,435.0 118.4,430.5 118.7,426.0 122.8,422.9 127.5,421.0 129.0,416.0 132.6,414.4 136.3,413.4 140.2,413.3 144.0,412.5 149.0,412.1 154.0,413.0 155.0,419.5 159.1,420.0 163.0,421.5 166.1,418.7 168.0,414.9 171.0,412.0 174.7,413.6 178.8,412.9 182.5,414.5 186.6,413.6 190.3,411.6 194.6,411.6 198.6,410.3 202.5,409.0 206.0,408.1 209.8,408.7 213.3,407.8 216.9,407.0 220.4,406.3 224.0,405.5 223.7,400.2 224.5,395.0 227.4,392.6 230.9,391.1 234.0,389.0 233.6,385.4 234.5,381.8 235.0,378.1 234.3,374.5 233.8,370.8 234.3,367.2 234.6,363.6 235.0,360.0 232.5,354.0 236.6,352.8 240.9,354.1 245.0,353.3 249.2,353.5 253.3,351.5 257.5,352.0 261.4,355.2 266.0,357.5 264.6,353.9 265.0,350.0 266.6,346.3 269.6,343.5 270.8,339.5 273.0,336.2 274.8,332.6 278.5,330.2 279.3,326.0 282.0,323.0 285.6,326.9 290.0,330.0 294.3,331.9 299.0,332.5 302.0,337.0 305.3,335.1 308.9,334.1 312.5,333.0 312.6,329.3 313.1,325.7 313.8,322.2 315.2,318.7 315.0,315.0 319.0,309.5 322.7,310.1 326.3,309.5 330.0,309.0 331.3,304.7 334.0,301.0 338.0,301.5 342.0,301.6 346.0,302.0 345.6,307.2 345.5,312.5 348.4,316.3 350.8,320.4 354.0,324.0 356.6,326.7 360.0,328.0 362.9,331.0 366.7,332.6 370.0,335.0 370.9,339.2 371.8,343.3 372.5,347.5 374.9,352.2 375.5,357.5 374.8,361.4 372.7,365.0 372.5,369.0 369.7,372.4 367.0,376.0 368.9,380.0 369.0,384.5 371.9,387.0 375.7,387.8 379.0,389.5 382.9,389.2 386.5,390.5 390.4,390.5 394.0,392.0 397.6,393.3 400.2,396.4 404.0,397.5 407.2,401.0 410.9,403.9 414.0,407.5 418.6,409.0 422.5,412.0 422.4,416.4 424.5,420.4 425.2,424.6 425.0,429.0 426.9,432.5 429.0,435.8 430.5,439.5 426.0,440.5 426.7,443.0 425.9,446.8 424.7,450.5 423.0,454.0 418.7,455.2 414.5,456.5 410.0,456.7 404.8,457.8 400.0,460.0 398.2,463.1 396.1,466.0 394.0,469.0 390.0,470.0 386.7,472.4 383.0,474.0 379.0,475.0 378.5,479.0 377.0,482.7 375.7,486.4 374.0,490.0 371.3,493.0 370.0,496.9 367.5,500.0 369.0,504.0 364.3,504.4 359.7,505.3 355.0,506.0 350.6,506.0 346.6,507.8 342.3,507.8 338.0,508.4 334.0,510.0 335.3,514.9 335.0,520.0 337.5,523.5 341.0,526.0 341.5,530.1 343.6,533.7 345.0,537.5 340.4,539.8 336.0,542.5 337.5,546.9 337.5,551.6 339.0,556.0 335.4,553.7 331.6,552.0 327.5,551.0 322.6,552.6 317.5,552.5 314.4,550.0 310.9,548.0 307.8,545.3 305.0,542.5 301.2,541.7 297.4,541.0 293.9,539.1 290.0,539.0 285.6,539.2 281.3,539.3 276.9,538.6 272.5,539.5 268.6,542.2 263.9,543.3 260.0,546.0 256.3,544.9 252.5,544.8 248.7,545.9 245.0,545.0 240.5,545.1 236.2,544.1 231.9,542.7 227.5,542.5 225.2,539.6 223.1,536.6 220.0,534.5 216.3,534.8 212.9,535.8 209.5,537.4 206.0,538.1 202.5,539.0 199.1,536.2 194.5,535.3 190.8,533.0 187.5,530.0 184.6,533.1 182.4,536.9 178.7,539.2 176.0,542.5 172.2,542.3 168.6,544.0 164.7,542.8Z"/>
<path fill="#ead5fd" d="M161.0,544.0 164.7,542.8 168.6,544.0 172.2,542.3 176.0,542.5 178.7,539.2 182.4,536.9 184.6,533.1 187.5,530.0 190.8,533.0 194.5,535.3 199.1,536.2 202.5,539.0 206.0,538.1 209.5,537.4 212.9,535.8 216.3,534.8 220.0,534.5 223.1,536.6 225.2,539.6 227.5,542.5 231.9,542.7 236.2,544.1 240.5,545.1 245.0,545.0 248.7,545.9 252.5,544.8 256.3,544.9 260.0,546.0 263.9,543.3 268.6,542.2 272.5,539.5 276.9,538.6 281.3,539.3 285.6,539.2 290.0,539.0 293.9,539.1 297.4,541.0 301.2,541.7 305.0,542.5 307.8,545.3 310.9,548.0 314.4,550.0 317.5,552.5 317.0,556.2 315.6,559.5 313.9,562.8 313.4,566.5 312.5,570.0 313.8,575.2 316.0,580.0 313.8,583.1 312.1,586.4 311.0,590.0 312.2,594.4 314.4,598.3 316.3,602.4 319.0,606.0 323.4,607.9 327.9,609.6 332.5,611.0 335.1,613.5 337.1,616.7 340.0,619.0 343.2,621.1 347.1,621.7 350.0,624.3 353.1,626.4 356.7,627.7 360.3,628.1 363.7,629.3 367.2,630.3 370.8,631.2 374.4,631.2 378.0,631.8 380.2,634.8 382.6,637.6 385.3,640.1 388.0,642.7 390.7,645.9 391.7,650.0 395.9,651.8 400.0,654.0 403.9,652.6 408.0,652.7 411.5,649.4 415.0,646.0 418.6,642.8 421.7,639.0 425.6,641.4 430.0,642.7 431.3,647.8 433.0,652.7 433.9,656.8 437.1,659.9 438.0,664.0 436.7,669.0 438.1,674.1 440.0,679.0 438.9,683.2 439.9,687.5 438.7,691.7 439.0,696.0 437.7,699.9 437.4,704.0 437.0,708.0 431.7,712.5 431.1,717.8 430.5,723.0 425.8,724.5 420.9,724.4 417.8,721.0 414.4,717.9 410.0,720.9 409.0,728.0 404.0,731.0 400.5,728.0 397.0,725.0 393.5,722.0 389.7,719.1 385.0,717.9 379.0,719.0 375.6,723.0 371.5,724.4 367.4,725.9 363.3,727.6 358.9,728.0 356.7,731.4 353.5,733.8 350.5,736.4 345.6,736.6 341.0,738.0 336.2,736.6 331.4,735.0 327.2,734.4 323.0,734.6 324.4,730.2 324.9,725.6 321.6,723.0 319.0,719.7 316.8,715.1 316.0,710.0 312.3,711.3 308.3,709.7 304.3,708.2 300.6,706.0 296.8,704.0 293.5,702.1 289.7,701.8 286.2,704.3 283.8,708.0 280.0,710.0 279.0,713.6 277.0,716.7 273.6,711.3 276.0,706.5 274.8,703.0 274.2,699.4 270.3,700.1 266.4,700.4 262.5,701.3 258.6,701.8 254.6,700.0 250.3,699.4 247.3,697.3 244.2,695.2 242.0,692.2 237.8,692.2 233.6,692.2 231.2,688.3 230.0,683.9 226.2,682.0 222.5,680.0 219.1,676.7 215.7,673.5 212.5,670.0 210.2,666.7 208.4,663.2 206.0,660.0 202.1,657.6 199.8,653.5 196.0,651.0 194.5,647.7 192.2,644.8 190.7,641.5 189.6,638.0 187.5,635.0 183.2,633.8 179.9,630.8 176.0,629.0 170.0,632.5 167.6,629.0 164.9,625.6 161.8,622.5 160.5,618.1 157.5,615.0 155.0,612.3 152.7,609.4 150.6,606.4 149.0,602.9 146.8,600.0 144.0,597.5 143.4,593.1 143.5,588.7 142.9,584.4 142.5,580.0 144.8,576.1 147.5,572.5 149.8,575.9 152.5,579.0 154.8,574.7 156.0,570.0 155.5,566.3 155.6,562.5 156.4,558.7 154.5,555.0 154.7,551.3 155.0,547.5Z"/>
<path fill="#ead5fd" d="M317.5,552.5 322.6,552.6 327.5,551.0 331.6,552.0 335.4,553.7 339.0,556.0 337.5,551.6 337.5,546.9 336.0,542.5 340.4,539.8 345.0,537.5 343.6,533.7 341.5,530.1 341.0,526.0 337.5,523.5 335.0,520.0 335.3,514.9 334.0,510.0 338.0,508.4 342.3,507.8 346.6,507.8 350.6,506.0 355.0,506.0 359.7,505.3 364.3,504.4 369.0,504.0 373.2,503.4 377.5,504.0 380.8,507.9 385.0,511.0 388.6,512.4 392.5,512.5 395.0,516.5 396.0,521.0 400.9,521.1 405.5,522.1 410.0,524.0 414.1,526.0 417.5,529.0 421.2,527.4 424.5,525.2 427.5,522.5 429.1,518.4 429.9,514.2 431.0,510.0 434.2,512.7 437.8,514.4 441.7,515.8 445.4,514.7 449.3,515.0 453.0,514.0 455.4,516.9 458.6,518.9 460.5,522.3 463.0,525.0 466.6,526.2 469.8,528.1 473.0,530.0 476.6,532.2 479.8,535.1 483.0,537.9 486.7,540.0 490.0,542.3 493.8,543.8 496.7,546.7 498.7,549.9 499.8,553.5 501.7,556.7 503.8,560.2 503.8,564.3 506.2,567.7 506.7,571.7 509.0,577.0 506.7,579.9 505.3,583.3 503.4,586.4 502.5,590.0 499.8,593.9 495.7,596.5 492.5,600.0 491.4,603.6 492.6,607.4 491.7,611.0 486.7,611.0 482.1,610.6 478.0,608.5 473.0,612.7 475.0,616.2 478.0,619.0 481.8,621.0 485.0,624.0 490.0,629.0 485.0,632.7 481.4,634.2 478.0,636.0 478.0,641.0 473.0,641.0 469.6,643.2 466.7,646.0 463.7,642.8 461.7,639.0 458.0,633.5 455.0,636.8 450.6,634.3 446.7,631.0 444.0,627.7 441.7,624.0 441.0,619.5 439.0,615.4 438.0,611.0 434.6,608.8 430.8,607.7 426.1,610.2 422.5,614.0 424.4,618.8 425.0,624.0 423.1,628.3 420.0,631.8 421.2,635.3 421.7,639.0 418.6,642.8 415.0,646.0 411.5,649.4 408.0,652.7 403.9,652.6 400.0,654.0 395.9,651.8 391.7,650.0 390.7,645.9 388.0,642.7 385.3,640.1 382.6,637.6 380.2,634.8 378.0,631.8 374.4,631.2 370.8,631.2 367.2,630.3 363.7,629.3 360.3,628.1 356.7,627.7 353.1,626.4 350.0,624.3 347.1,621.7 343.2,621.1 340.0,619.0 337.1,616.7 335.1,613.5 332.5,611.0 327.9,609.6 323.4,607.9 319.0,606.0 316.3,602.4 314.4,598.3 312.2,594.4 311.0,590.0 312.1,586.4 313.8,583.1 316.0,580.0 313.8,575.2 312.5,570.0 313.4,566.5 313.9,562.8 315.6,559.5 317.0,556.2Z"/>
<path fill="#ead5fd" d="M369.0,504.0 367.5,500.0 370.0,496.9 371.3,493.0 374.0,490.0 375.7,486.4 377.0,482.7 378.5,479.0 379.0,475.0 383.0,474.0 386.7,472.4 390.0,470.0 394.0,469.0 396.1,466.0 398.2,463.1 400.0,460.0 404.8,457.8 410.0,456.7 414.5,456.5 418.7,455.2 423.0,454.0 424.7,450.5 425.9,446.8 426.7,443.0 426.0,440.5 430.5,439.5 435.7,439.1 441.0,439.0 441.6,443.0 443.0,446.7 445.1,450.2 446.6,453.9 446.3,458.1 448.0,461.7 444.0,466.7 446.2,470.7 449.0,474.3 451.7,478.0 453.0,485.0 456.5,483.9 459.8,482.3 463.2,480.9 466.7,480.0 470.8,480.9 475.0,480.8 478.0,486.7 476.9,490.3 474.9,493.5 473.0,496.7 466.7,500.0 470.1,502.1 473.0,505.0 476.7,506.7 480.5,508.8 484.3,511.0 484.0,514.9 485.4,518.5 488.2,521.7 490.9,525.0 496.3,526.6 500.0,522.3 501.8,518.7 505.0,516.3 508.6,517.9 512.6,518.5 516.7,515.5 521.3,513.6 527.8,514.0 529.4,520.6 528.3,524.3 525.6,527.0 522.2,530.8 518.0,533.7 517.3,538.1 516.4,542.4 518.7,545.8 521.3,548.9 524.9,550.5 527.8,553.0 533.2,555.0 536.0,557.4 537.6,561.0 540.8,563.0 542.1,566.9 544.0,570.6 545.5,574.2 545.2,578.0 545.4,582.0 544.0,585.8 549.5,590.0 552.9,592.6 556.0,595.6 557.5,597.0 558.6,602.7 556.4,609.5 559.4,613.3 557.9,620.0 557.7,624.3 558.6,628.5 554.5,627.7 550.3,628.5 545.8,633.0 549.5,637.6 546.5,641.4 543.0,642.7 541.2,641.4 538.6,645.0 535.2,648.0 531.3,646.8 527.6,645.0 523.0,640.6 523.5,636.8 523.8,633.0 521.2,629.6 520.0,625.5 516.7,624.0 513.3,622.7 510.0,621.0 508.9,616.6 506.7,612.7 500.0,614.0 496.0,617.0 493.0,621.0 491.1,624.9 490.0,629.0 485.0,624.0 481.8,621.0 478.0,619.0 475.0,616.2 473.0,612.7 478.0,608.5 482.1,610.6 486.7,611.0 491.7,611.0 492.6,607.4 491.4,603.6 492.5,600.0 495.7,596.5 499.8,593.9 502.5,590.0 503.4,586.4 505.3,583.3 506.7,579.9 509.0,577.0 506.7,571.7 506.2,567.7 503.8,564.3 503.8,560.2 501.7,556.7 499.8,553.5 498.7,549.9 496.7,546.7 493.8,543.8 490.0,542.3 486.7,540.0 483.0,537.9 479.8,535.1 476.6,532.2 473.0,530.0 469.8,528.1 466.6,526.2 463.0,525.0 460.5,522.3 458.6,518.9 455.4,516.9 453.0,514.0 449.3,515.0 445.4,514.7 441.7,515.8 437.8,514.4 434.2,512.7 431.0,510.0 429.9,514.2 429.1,518.4 427.5,522.5 424.5,525.2 421.2,527.4 417.5,529.0 414.1,526.0 410.0,524.0 405.5,522.1 400.9,521.1 396.0,521.0 395.0,516.5 392.5,512.5 388.6,512.4 385.0,511.0 380.8,507.9 377.5,504.0 373.2,503.4Z"/>
<path fill="#ead5fd" d="M570.2,559.0 566.4,558.8 562.6,559.7 559.3,564.0 557.3,568.3 556.0,572.8 560.4,578.0 565.8,581.5 563.6,587.0 558.2,590.0 557.5,597.0 559.4,598.0 563.6,597.8 567.8,597.7 571.8,596.3 576.0,596.3 582.0,596.0 585.7,594.6 589.7,595.0 588.6,591.0 589.7,584.7 590.5,579.9 589.7,575.0 585.0,573.6 581.0,570.6 576.9,567.4 572.3,565.0Z"/>
<path fill="#ead5fd" d="M533.2,555.0 538.7,550.5 542.2,548.1 545.0,545.0 547.0,541.7 548.0,538.0 549.5,532.6 551.1,529.0 551.7,525.0 556.0,520.0 559.9,520.3 563.6,519.0 564.7,524.0 565.2,527.8 566.4,531.5 568.0,535.0 569.8,540.1 572.0,545.0 571.3,551.0 569.9,554.9 570.2,559.0 566.4,558.8 562.6,559.7 559.3,564.0 557.3,568.3 556.0,572.8 560.4,578.0 565.8,581.5 563.6,587.0 558.2,590.0 557.5,597.0 556.0,595.6 552.9,592.6 549.5,590.0 544.0,585.8 545.4,582.0 545.2,578.0 545.5,574.2 544.0,570.6 542.1,566.9 540.8,563.0 537.6,561.0 536.0,557.4Z"/>
<path fill="#ead5fd" d="M441.0,439.0 444.0,444.0 448.0,444.8 451.9,446.6 455.9,447.4 460.0,448.0 464.0,448.6 467.9,449.3 472.0,449.3 476.0,449.2 480.0,449.5 483.9,450.1 487.5,452.0 491.3,453.0 495.4,452.6 499.0,454.5 503.0,458.0 507.5,461.0 512.1,462.6 516.2,465.0 520.0,468.0 524.3,469.2 528.6,470.3 533.0,470.8 538.0,475.0 541.9,476.4 546.1,475.9 550.0,477.0 553.9,476.9 557.7,476.4 561.2,474.5 565.0,474.0 568.4,471.9 572.5,471.5 575.8,469.3 579.8,468.4 583.0,466.0 586.5,463.9 590.7,463.2 593.9,460.5 597.7,459.0 601.7,458.0 605.3,456.9 608.0,454.0 611.7,453.0 614.3,450.2 617.9,448.3 620.0,445.0 624.4,443.2 628.0,440.0 632.0,435.0 629.7,432.2 628.9,428.4 627.1,425.2 624.5,422.5 627.3,418.9 629.9,415.1 632.0,411.0 636.1,411.2 640.1,412.1 643.9,414.0 648.0,414.0 652.0,415.0 655.8,412.5 658.1,408.6 661.9,406.2 664.5,402.5 668.2,401.6 671.9,400.5 675.9,400.6 679.5,399.0 681.3,395.9 683.4,393.0 685.3,389.9 687.3,386.8 689.5,384.0 693.3,382.5 695.7,378.9 699.5,377.5 703.7,375.8 708.2,375.0 712.0,372.5 716.2,373.1 720.2,374.3 724.5,374.0 728.0,369.0 725.4,365.0 722.0,361.6 719.5,357.5 715.3,356.0 711.8,353.2 708.0,351.0 703.2,352.0 699.1,354.5 694.5,356.0 690.7,356.6 687.0,357.6 683.3,358.6 679.5,359.0 675.8,355.3 673.0,351.0 674.9,346.7 677.0,342.5 678.5,338.8 679.5,334.9 680.3,331.0 682.8,327.6 684.1,323.8 684.3,319.6 686.0,316.0 689.9,317.2 693.4,319.2 697.0,321.0 700.1,318.7 702.7,315.9 706.4,314.3 709.1,311.5 712.0,309.0 713.6,305.1 714.4,301.0 715.7,297.0 716.2,292.8 718.0,289.0 719.4,285.5 722.1,282.7 723.0,279.0 725.1,275.8 725.6,272.0 726.4,268.4 728.0,265.0 723.9,262.2 719.5,260.0 722.3,256.6 724.8,253.0 728.0,250.0 730.9,247.3 734.3,245.3 738.0,244.0 736.8,247.9 737.7,252.1 736.6,256.0 736.0,260.0 740.3,259.6 744.5,259.0 747.4,261.5 750.1,264.2 752.0,267.5 753.5,272.1 755.7,276.4 757.0,281.0 760.8,281.2 764.4,279.1 768.2,278.8 772.0,279.0 774.6,275.9 777.4,273.0 781.0,271.0 783.6,274.0 786.5,276.7 789.4,279.5 792.0,282.5 789.8,286.6 787.5,290.6 786.0,295.0 786.9,299.0 786.1,303.0 786.7,307.0 786.9,311.0 786.0,315.0 784.0,318.8 781.9,322.7 781.5,327.2 779.5,331.0 779.2,335.0 779.5,339.0 777.0,334.0 774.6,337.0 771.7,339.5 769.4,342.5 766.5,345.0 765.1,348.8 761.9,351.1 759.5,354.0 761.1,359.1 763.0,364.0 767.4,362.7 772.0,362.5 769.5,365.4 768.5,369.1 767.0,372.5 769.5,375.0 766.3,378.3 764.5,382.5 760.8,384.1 757.0,385.0 753.0,385.0 755.1,388.4 756.7,392.1 759.5,395.0 760.6,398.9 760.7,403.0 761.5,407.0 761.5,411.1 763.0,415.0 765.5,412.0 768.6,409.5 772.0,407.5 774.5,410.9 774.9,415.4 778.4,418.4 779.5,422.5 782.0,429.0 779.7,433.4 777.0,437.5 774.5,440.5 771.1,442.3 768.1,444.7 765.0,447.0 761.0,450.2 756.7,453.0 750.0,455.0 746.0,460.0 743.0,463.8 740.0,467.7 738.8,463.4 736.6,459.5 733.0,458.0 731.0,463.0 730.7,470.0 729.0,474.5 722.0,476.0 717.0,474.5 716.2,468.5 713.5,465.8 710.0,464.0 705.1,462.6 700.0,462.0 695.0,463.5 690.0,465.0 686.3,466.3 683.1,468.6 680.0,471.0 675.7,471.4 671.7,473.0 670.2,469.1 670.0,465.0 667.1,468.7 663.0,471.0 661.6,474.7 659.5,478.0 658.0,481.7 660.1,484.9 661.9,488.3 663.0,492.0 660.0,495.0 656.8,496.9 653.7,499.1 650.0,500.0 645.6,501.1 641.2,502.4 636.7,503.0 634.8,506.6 632.0,509.5 630.0,513.0 626.3,514.9 622.3,516.3 616.7,520.0 612.4,519.6 608.2,518.5 604.8,521.8 602.8,526.0 600.4,530.1 597.5,533.8 594.0,537.0 592.8,541.5 590.8,545.6 589.7,551.0 585.3,551.8 581.0,553.0 575.6,548.9 571.3,551.0 572.0,545.0 569.8,540.1 568.0,535.0 566.4,531.5 565.2,527.8 564.7,524.0 563.6,519.0 559.9,520.3 556.0,520.0 551.7,525.0 551.1,529.0 549.5,532.6 548.0,538.0 547.0,541.7 545.0,545.0 542.2,548.1 538.7,550.5 533.2,555.0 527.8,553.0 524.9,550.5 521.3,548.9 518.7,545.8 516.4,542.4 517.3,538.1 518.0,533.7 522.2,530.8 525.6,527.0 528.3,524.3 529.4,520.6 527.8,514.0 521.3,513.6 516.7,515.5 512.6,518.5 508.6,517.9 505.0,516.3 501.8,518.7 500.0,522.3 496.3,526.6 490.9,525.0 488.2,521.7 485.4,518.5 484.0,514.9 484.3,511.0 480.5,508.8 476.7,506.7 473.0,505.0 470.1,502.1 466.7,500.0 473.0,496.7 474.9,493.5 476.9,490.3 478.0,486.7 475.0,480.8 470.8,480.9 466.7,480.0 463.2,480.9 459.8,482.3 456.5,483.9 453.0,485.0 451.7,478.0 449.0,474.3 446.2,470.7 444.0,466.7 448.0,461.7 446.3,458.1 446.6,453.9 445.1,450.2 443.0,446.7 441.6,443.0Z"/>
<path fill="#ead5fd" d="M738.0,244.0 741.9,243.7 745.6,242.0 749.5,241.6 753.1,240.0 757.0,239.5 761.2,239.6 765.0,241.1 769.0,242.3 773.0,243.3 777.0,244.0 780.2,246.4 783.4,248.8 786.0,252.0 789.5,254.0 790.9,258.0 793.6,261.4 795.4,265.1 797.6,268.7 799.5,272.5 802.2,275.0 803.5,278.5 805.9,281.2 808.3,284.0 809.5,287.5 811.0,291.6 812.1,295.8 813.0,300.0 817.0,300.0 820.5,302.4 824.5,302.5 828.8,302.1 832.8,303.9 837.0,304.0 840.3,306.1 843.7,308.2 847.6,309.1 851.0,311.0 851.9,314.7 854.1,317.8 856.0,321.0 859.7,320.4 863.4,321.2 866.9,322.7 870.6,322.4 874.3,322.0 878.0,322.5 880.8,319.1 885.1,317.4 888.3,314.5 891.0,311.0 894.7,309.7 898.3,307.9 902.0,306.4 906.0,306.0 904.7,309.7 902.0,312.5 902.8,317.6 904.5,322.5 903.6,326.4 901.2,329.7 900.4,333.6 899.5,337.5 899.9,341.2 900.1,345.0 899.7,348.8 899.5,352.5 898.9,356.5 898.4,360.6 897.0,364.4 895.9,368.4 896.0,372.5 892.3,373.2 888.6,374.2 884.7,373.8 881.0,375.0 877.5,378.2 874.2,381.6 871.0,385.0 872.6,388.8 874.3,392.6 877.1,395.9 878.0,400.0 878.0,405.0 878.0,410.0 872.0,410.0 868.8,407.8 865.9,405.1 863.0,402.5 857.0,405.0 855.2,408.6 852.1,411.0 849.5,414.0 847.3,410.6 843.6,408.9 841.0,406.0 837.9,404.1 835.3,401.5 832.0,400.0 829.0,397.3 825.8,395.0 823.2,391.8 819.5,390.0 816.0,388.0 811.9,387.9 808.0,386.9 804.5,385.0 800.4,386.3 796.3,387.4 792.0,387.5 788.1,386.0 784.5,384.0 781.4,379.8 779.5,375.0 774.5,374.9 769.5,375.0 767.0,372.5 768.5,369.1 769.5,365.4 772.0,362.5 767.4,362.7 763.0,364.0 761.1,359.1 759.5,354.0 761.9,351.1 765.1,348.8 766.5,345.0 769.4,342.5 771.7,339.5 774.6,337.0 777.0,334.0 779.5,339.0 779.2,335.0 779.5,331.0 781.5,327.2 781.9,322.7 784.0,318.8 786.0,315.0 786.9,311.0 786.7,307.0 786.1,303.0 786.9,299.0 786.0,295.0 787.5,290.6 789.8,286.6 792.0,282.5 789.4,279.5 786.5,276.7 783.6,274.0 781.0,271.0 777.4,273.0 774.6,275.9 772.0,279.0 768.2,278.8 764.4,279.1 760.8,281.2 757.0,281.0 755.7,276.4 753.5,272.1 752.0,267.5 750.1,264.2 747.4,261.5 744.5,259.0 740.3,259.6 736.0,260.0 736.6,256.0 737.7,252.1 736.8,247.9Z"/>
<path fill="#ead5fd" d="M769.5,375.0 774.5,374.9 779.5,375.0 781.4,379.8 784.5,384.0 788.1,386.0 792.0,387.5 796.3,387.4 800.4,386.3 804.5,385.0 808.0,386.9 811.9,387.9 816.0,388.0 819.5,390.0 823.2,391.8 825.8,395.0 829.0,397.3 832.0,400.0 835.3,401.5 837.9,404.1 841.0,406.0 843.6,408.9 847.3,410.6 849.5,414.0 852.1,411.0 855.2,408.6 857.0,405.0 863.0,402.5 865.9,405.1 868.8,407.8 872.0,410.0 878.0,410.0 877.9,413.7 879.9,417.2 879.5,421.0 875.1,420.9 871.0,422.5 873.7,426.6 876.0,431.0 871.7,429.8 868.7,426.4 864.5,425.0 862.7,428.3 862.5,432.2 859.7,435.2 860.1,439.3 858.0,442.5 853.7,443.9 849.1,444.7 845.0,446.7 845.6,451.2 848.0,455.0 844.0,453.9 839.9,453.8 835.7,454.3 831.7,453.0 829.0,456.0 826.9,459.4 825.0,463.0 823.5,467.4 821.7,471.7 816.7,473.0 816.5,468.0 815.3,464.2 814.5,460.2 811.8,457.0 811.0,453.0 808.2,449.1 807.8,444.0 805.0,440.0 802.0,435.0 797.8,433.4 793.3,432.5 789.5,430.0 785.6,430.3 782.0,429.0 779.5,422.5 778.4,418.4 774.9,415.4 774.5,410.9 772.0,407.5 768.6,409.5 765.5,412.0 763.0,415.0 761.5,411.1 761.5,407.0 760.7,403.0 760.6,398.9 759.5,395.0 756.7,392.1 755.1,388.4 753.0,385.0 757.0,385.0 760.8,384.1 764.5,382.5 766.3,378.3Z"/>
<path fill="#fbdcc1" d="M729.0,474.5 730.7,470.0 731.0,463.0 733.0,458.0 736.6,459.5 738.8,463.4 740.0,467.7 743.0,463.8 746.0,460.0 750.0,455.0 756.7,453.0 761.0,450.2 765.0,447.0 768.1,444.7 771.1,442.3 774.5,440.5 777.0,437.5 779.7,433.4 782.0,429.0 785.6,430.3 789.5,430.0 793.3,432.5 797.8,433.4 802.0,435.0 805.0,440.0 807.8,444.0 808.2,449.1 811.0,453.0 811.8,457.0 814.5,460.2 815.3,464.2 816.5,468.0 816.7,473.0 813.9,476.4 810.7,479.6 807.9,483.1 804.2,485.8 802.0,489.8 798.8,495.8 792.0,497.5 788.6,499.8 785.0,501.7 780.0,506.0 779.0,511.0 775.0,515.0 770.7,518.0 765.0,521.0 759.6,523.0 759.0,519.5 764.0,516.5 768.0,512.0 768.7,508.2 771.0,505.0 771.8,500.9 773.0,497.0 771.8,492.6 772.4,488.0 768.0,483.0 764.7,477.0 759.6,480.4 755.8,481.9 752.8,484.7 751.0,488.3 748.5,491.5 744.9,490.8 741.1,491.2 737.5,490.7 733.0,490.2 729.0,488.0 726.4,484.7 728.0,479.6Z"/>
<path fill="#fbdcc1" d="M663.0,492.0 661.9,488.3 660.1,484.9 658.0,481.7 659.5,478.0 661.6,474.7 663.0,471.0 667.1,468.7 670.0,465.0 670.2,469.1 671.7,473.0 675.7,471.4 680.0,471.0 683.1,468.6 686.3,466.3 690.0,465.0 695.0,463.5 700.0,462.0 705.1,462.6 710.0,464.0 713.5,465.8 716.2,468.5 717.0,474.5 722.0,476.0 729.0,474.5 728.0,479.6 726.4,484.7 729.0,488.0 733.0,490.2 737.5,490.7 741.1,491.2 744.9,490.8 748.5,491.5 744.4,494.4 740.9,498.0 739.3,501.3 737.9,504.7 735.8,507.7 734.6,511.2 733.0,514.5 728.0,518.0 722.0,521.0 720.0,520.0 717.9,515.6 715.0,511.7 713.5,508.0 713.0,504.0 706.7,500.8 703.6,503.1 701.0,506.0 700.3,510.8 698.0,515.0 699.6,519.9 700.0,525.0 702.9,528.1 706.7,530.0 713.0,531.0 715.5,534.2 716.7,538.0 713.0,539.9 709.6,542.0 706.7,545.0 703.4,546.8 700.0,548.4 696.7,550.0 694.3,553.0 693.0,556.7 690.5,560.6 688.0,564.5 685.0,568.0 684.4,571.7 684.2,575.4 683.0,579.0 676.7,580.0 671.7,579.0 666.7,578.0 660.0,580.0 658.9,575.4 657.0,571.0 660.1,567.4 661.7,563.0 662.8,559.4 664.5,556.1 666.7,553.0 664.7,548.9 664.5,544.3 663.0,540.0 661.8,536.4 659.2,533.6 658.0,530.0 660.6,525.3 661.7,520.0 662.3,516.3 664.5,513.3 666.0,510.0 668.7,506.2 670.0,501.7 666.7,498.0Z"/>
<path fill="#ead5fd" d="M720.0,520.0 717.9,515.6 715.0,511.7 713.5,508.0 713.0,504.0 706.7,500.8 703.6,503.1 701.0,506.0 700.3,510.8 698.0,515.0 699.6,519.9 700.0,525.0 702.9,528.1 706.7,530.0 713.0,531.0 715.0,525.0Z"/>
<path fill="#fbdcc1" d="M622.3,516.3 626.3,514.9 630.0,513.0 632.0,509.5 634.8,506.6 636.7,503.0 641.2,502.4 645.6,501.1 650.0,500.0 653.7,499.1 656.8,496.9 660.0,495.0 663.0,492.0 666.7,498.0 670.0,501.7 668.7,506.2 666.0,510.0 664.5,513.3 662.3,516.3 661.7,520.0 660.6,525.3 658.0,530.0 659.2,533.6 661.8,536.4 663.0,540.0 664.5,544.3 664.7,548.9 666.7,553.0 664.5,556.1 662.8,559.4 661.7,563.0 660.1,567.4 657.0,571.0 658.9,575.4 660.0,580.0 658.8,583.7 657.9,587.4 658.8,591.4 657.5,595.0 653.6,597.8 650.0,601.0 644.9,602.2 640.0,604.0 634.8,604.3 629.8,605.8 625.1,608.1 620.0,609.0 615.7,609.4 611.7,611.0 613.5,606.6 614.7,602.0 615.3,597.0 615.8,592.0 614.2,587.4 613.6,582.6 613.1,578.2 613.8,573.8 613.2,569.4 612.5,565.0 615.8,558.7 616.5,554.9 616.4,551.1 616.1,547.3 616.9,543.5 617.6,539.8 619.3,536.3 620.0,532.6 621.4,528.9 622.9,525.3 624.5,521.7Z"/>
<path fill="#fbdcc1" d="M571.3,551.0 575.6,548.9 581.0,553.0 585.3,551.8 589.7,551.0 590.8,545.6 592.8,541.5 594.0,537.0 597.5,533.8 600.4,530.1 602.8,526.0 604.8,521.8 608.2,518.5 612.4,519.6 616.7,520.0 622.3,516.3 624.5,521.7 622.9,525.3 621.4,528.9 620.0,532.6 619.3,536.3 617.6,539.8 616.9,543.5 616.1,547.3 616.4,551.1 616.5,554.9 615.8,558.7 612.5,565.0 613.2,569.4 613.8,573.8 613.1,578.2 613.6,582.6 614.2,587.4 615.8,592.0 615.3,597.0 614.7,602.0 613.5,606.6 611.7,611.0 613.2,616.4 614.6,619.8 616.2,623.0 619.1,626.1 620.8,630.0 622.2,633.7 623.0,637.6 616.2,639.0 611.0,639.8 607.1,639.6 603.3,638.7 598.8,639.8 603.3,642.0 604.8,646.7 608.0,651.0 601.7,654.0 600.9,659.0 600.0,664.0 595.7,664.0 591.7,662.7 587.3,661.9 583.0,661.0 581.7,659.0 577.1,656.9 573.0,654.0 569.9,651.9 566.5,650.3 563.0,649.0 558.4,648.2 554.5,645.3 550.0,644.0 543.0,642.7 546.5,641.4 549.5,637.6 545.8,633.0 550.3,628.5 554.5,627.7 558.6,628.5 557.7,624.3 557.9,620.0 559.4,613.3 556.4,609.5 558.6,602.7 557.5,597.0 559.4,598.0 563.6,597.8 567.8,597.7 571.8,596.3 576.0,596.3 582.0,596.0 585.7,594.6 589.7,595.0 588.6,591.0 589.7,584.7 590.5,579.9 589.7,575.0 585.0,573.6 581.0,570.6 576.9,567.4 572.3,565.0 570.2,559.0 569.9,554.9Z"/>
<path fill="#c832c3" d="M683.0,579.0 684.2,575.4 684.4,571.7 685.0,568.0 688.0,564.5 690.5,560.6 693.0,556.7 694.3,553.0 696.7,550.0 700.0,548.4 703.4,546.8 706.7,545.0 709.6,542.0 713.0,539.9 716.7,538.0 721.8,538.0 726.7,539.0 729.7,541.3 733.0,543.0 734.0,550.0 736.6,553.0 740.0,555.0 743.5,552.7 746.7,550.0 750.0,544.0 756.7,541.7 760.2,542.7 763.2,544.9 766.7,545.8 770.9,545.6 775.0,545.0 778.9,546.5 783.0,547.5 782.5,552.1 782.5,556.7 776.7,555.0 773.8,557.2 771.4,560.1 768.0,561.7 763.5,563.4 760.0,566.7 757.7,570.9 755.0,575.0 750.0,580.0 747.8,583.1 746.7,586.7 743.9,591.2 741.7,596.0 738.0,597.7 734.4,600.8 730.0,602.7 727.0,606.9 723.0,610.0 716.7,609.0 712.9,607.7 710.4,604.2 706.7,602.7 701.7,606.0 698.0,607.0 692.9,607.5 688.0,609.0 685.1,605.8 681.2,603.8 678.0,601.0 677.5,600.0 679.4,596.2 682.4,593.2 685.0,590.0 686.5,586.1 686.7,582.0Z"/>
<path fill="#c832c3" d="M660.0,580.0 666.7,578.0 671.7,579.0 676.7,580.0 683.0,579.0 686.7,582.0 686.5,586.1 685.0,590.0 682.4,593.2 679.4,596.2 677.5,600.0 678.0,601.0 681.2,603.8 685.1,605.8 688.0,609.0 692.9,607.5 698.0,607.0 698.9,611.5 700.0,616.0 697.0,618.4 693.2,619.0 690.0,621.0 687.6,624.7 686.7,629.0 686.1,633.4 685.0,637.7 680.0,641.0 681.2,644.5 683.0,647.7 686.4,649.6 690.0,651.0 695.0,654.0 694.1,658.4 695.0,662.7 690.0,667.7 685.0,669.0 680.9,668.3 676.7,667.7 671.6,666.2 666.7,664.0 663.0,659.0 660.0,654.0 656.3,653.6 652.5,652.8 648.8,652.9 645.0,653.0 641.0,652.2 636.9,652.1 633.0,651.0 629.0,648.0 626.0,642.9 623.0,637.6 622.2,633.7 620.8,630.0 619.1,626.1 616.2,623.0 614.6,619.8 613.2,616.4 611.7,611.0 615.7,609.4 620.0,609.0 625.1,608.1 629.8,605.8 634.8,604.3 640.0,604.0 644.9,602.2 650.0,601.0 653.6,597.8 657.5,595.0 658.8,591.4 657.9,587.4 658.8,583.7Z"/>
<path fill="#862286" d="M701.7,606.0 706.7,602.7 710.4,604.2 712.9,607.7 716.7,609.0 723.0,610.0 727.0,606.9 730.0,602.7 734.4,600.8 738.0,597.7 741.7,596.0 743.0,602.7 747.0,606.0 749.4,609.8 752.4,613.3 755.0,617.0 757.4,620.0 759.2,623.4 762.0,626.0 765.0,629.0 766.5,633.1 769.5,636.4 770.3,641.6 776.2,643.9 777.7,648.3 783.7,650.6 786.3,655.0 786.7,661.8 782.2,664.7 775.9,664.4 774.7,668.5 774.0,670.7 770.3,673.7 767.3,676.7 762.8,673.0 759.0,672.2 754.6,671.5 748.6,669.2 744.9,669.1 741.2,669.2 739.7,665.5 741.2,663.3 737.8,660.4 734.5,657.3 733.7,654.3 736.7,649.8 737.5,644.6 740.0,645.5 744.0,647.0 744.5,642.0 741.0,638.5 738.0,637.7 735.6,633.3 733.0,629.0 730.0,626.3 726.7,624.0 723.1,622.3 720.5,619.1 716.7,617.7 713.3,615.6 709.7,613.7 706.7,611.0Z"/>
<path fill="#fbdcc1" d="M698.0,607.0 701.7,606.0 706.7,611.0 709.7,613.7 713.3,615.6 716.7,617.7 720.5,619.1 723.1,622.3 726.7,624.0 730.0,626.3 733.0,629.0 735.6,633.3 738.0,637.7 741.0,638.5 744.5,642.0 744.0,647.0 740.0,645.5 737.5,644.6 736.7,649.8 733.7,654.3 734.5,657.3 737.8,660.4 741.2,663.3 739.7,665.5 741.2,669.2 744.9,669.1 748.6,669.2 754.6,671.5 754.1,675.3 753.0,679.0 749.9,682.5 746.7,686.0 745.2,690.4 743.3,694.6 741.7,699.0 738.5,702.6 735.0,706.0 733.0,708.0 729.7,705.6 726.7,702.7 722.2,700.4 718.0,697.7 713.0,701.0 710.0,696.0 706.0,698.8 701.7,701.0 700.0,696.0 697.5,692.4 696.6,688.0 695.0,684.0 700.0,679.0 695.5,677.0 691.7,674.0 690.0,667.7 695.0,662.7 694.1,658.4 695.0,654.0 690.0,651.0 686.4,649.6 683.0,647.7 681.2,644.5 680.0,641.0 685.0,637.7 686.1,633.4 686.7,629.0 687.6,624.7 690.0,621.0 693.2,619.0 697.0,618.4 700.0,616.0 698.9,611.5Z"/>
<path fill="#c832c3" d="M754.6,671.5 759.0,672.2 762.8,673.0 767.3,676.7 770.3,673.7 774.0,670.7 774.7,668.5 775.5,672.2 779.2,675.2 782.2,675.2 776.7,679.0 779.8,681.0 783.0,683.0 786.9,684.9 790.0,688.0 794.0,692.0 793.0,696.0 792.0,700.0 791.7,704.6 790.0,709.0 788.8,712.5 788.0,716.0 790.0,722.7 785.5,724.6 781.7,727.7 779.1,730.8 776.7,734.0 776.5,737.7 775.0,741.0 770.0,742.7 766.1,741.6 763.0,739.0 760.2,741.4 756.7,742.7 752.3,742.1 748.0,741.0 745.5,737.3 744.0,733.3 743.0,729.0 741.0,725.8 739.5,722.4 738.0,719.0 735.9,714.8 733.0,711.0 733.0,708.0 735.0,706.0 738.5,702.6 741.7,699.0 743.3,694.6 745.2,690.4 746.7,686.0 749.9,682.5 753.0,679.0 754.1,675.3Z"/>
<path fill="#c832c3" d="M786.7,661.8 782.2,664.7 775.9,664.4 774.7,668.5 775.5,672.2 779.2,675.2 782.2,675.2 785.2,673.0 788.5,671.5 787.0,667.7Z"/>
<path fill="#fbdcc1" d="M733.0,708.0 729.7,705.6 726.7,702.7 722.2,700.4 718.0,697.7 713.0,701.0 710.0,696.0 706.0,698.8 701.7,701.0 697.8,701.7 693.9,702.1 690.0,702.7 685.2,704.8 680.0,706.0 677.0,708.7 673.3,710.5 670.0,712.7 670.9,717.9 673.0,722.7 673.2,727.7 673.0,732.7 671.2,737.2 668.0,741.0 665.8,744.7 665.0,749.0 666.7,752.0 668.6,756.4 671.7,760.0 672.2,765.0 673.0,770.0 673.3,774.1 672.2,778.0 671.7,782.0 673.0,788.0 680.0,787.0 685.0,792.0 684.8,796.2 683.0,800.0 688.0,799.3 693.0,798.7 697.0,796.0 701.7,794.5 703.6,789.8 705.0,785.0 706.6,781.4 707.8,777.7 708.0,773.7 709.0,769.9 709.4,765.9 710.0,762.0 712.7,757.6 715.0,753.0 720.0,752.0 718.2,747.5 718.0,742.7 723.0,737.7 727.8,735.3 733.0,734.0 736.0,731.7 739.7,730.8 743.0,729.0 741.0,725.8 739.5,722.4 738.0,719.0 735.9,714.8 733.0,711.0Z"/>
<path fill="#fbdcc1" d="M743.0,729.0 744.0,733.3 745.5,737.3 748.0,741.0 752.3,742.1 756.7,742.7 760.2,741.4 763.0,739.0 766.1,741.6 770.0,742.7 773.0,746.0 770.0,752.0 768.0,753.0 766.7,760.0 764.7,764.3 763.0,768.7 762.1,772.4 761.9,776.3 760.4,779.9 760.0,783.7 756.5,786.2 753.0,788.7 750.0,795.0 746.3,796.0 743.2,798.1 740.0,800.0 738.9,803.8 736.7,807.0 733.6,809.9 729.9,812.2 726.7,815.0 721.7,818.7 723.0,817.0 721.7,812.8 720.0,808.7 717.8,805.6 717.3,801.7 715.0,798.7 710.8,796.6 706.1,796.1 701.7,794.5 703.6,789.8 705.0,785.0 706.6,781.4 707.8,777.7 708.0,773.7 709.0,769.9 709.4,765.9 710.0,762.0 712.7,757.6 715.0,753.0 720.0,752.0 718.2,747.5 718.0,742.7 723.0,737.7 727.8,735.3 733.0,734.0 736.0,731.7 739.7,730.8Z"/>
<path fill="#54002b" d="M643.0,797.0 643.0,795.0 647.0,792.9 651.0,790.8 655.0,788.7 658.9,789.5 662.8,789.6 666.7,790.0 673.0,788.0 680.0,787.0 685.0,792.0 684.8,796.2 683.0,800.0 688.0,799.3 693.0,798.7 697.0,796.0 701.7,794.5 706.1,796.1 710.8,796.6 715.0,798.7 717.3,801.7 717.8,805.6 720.0,808.7 721.7,812.8 723.0,817.0 721.7,818.7 720.0,823.7 715.0,825.0 712.0,828.1 710.0,832.0 705.1,834.0 700.0,835.0 695.2,837.4 690.0,838.7 686.4,840.1 683.0,842.0 680.0,847.0 675.7,846.6 671.7,845.0 670.2,841.6 669.1,838.0 666.7,835.0 663.0,840.0 660.0,843.7 656.7,847.0 653.5,849.3 650.4,851.8 648.0,855.0 643.9,854.6 640.0,856.0 636.5,858.0 633.0,860.0 628.4,860.9 624.5,863.8 620.0,865.0 614.0,868.0 610.8,872.0 613.0,878.0 606.6,880.6 602.0,879.0 600.6,873.5 600.7,869.6 602.0,866.0 601.7,860.0 604.4,857.3 606.7,854.1 610.0,852.0 613.2,849.8 615.7,846.8 618.4,844.1 621.7,842.0 624.4,838.6 626.6,834.8 630.0,832.0 630.4,827.4 631.5,823.0 633.0,818.7 635.2,815.3 638.3,812.5 640.0,808.7 641.9,805.0 641.8,800.8Z"/>
<path fill="#ead5fd" d="M520.0,798.7 524.0,795.3 528.0,792.0 530.8,794.3 533.9,796.2 537.1,797.8 540.0,800.0 543.4,798.6 546.7,797.0 549.0,793.9 551.4,790.8 554.3,788.1 556.7,785.0 563.0,782.0 566.1,785.0 570.0,787.0 575.1,786.6 580.0,785.0 586.7,783.7 589.8,781.5 593.0,779.7 596.7,778.7 601.0,773.7 604.9,772.2 609.1,771.4 613.0,770.0 618.0,770.7 623.0,770.0 624.8,773.3 627.8,775.7 630.0,778.7 631.7,785.0 629.5,788.9 625.9,791.7 623.0,795.0 626.2,796.8 629.3,799.1 633.0,800.0 638.1,799.0 643.0,797.0 641.8,800.8 641.9,805.0 640.0,808.7 638.3,812.5 635.2,815.3 633.0,818.7 631.5,823.0 630.4,827.4 630.0,832.0 626.6,834.8 624.4,838.6 621.7,842.0 618.4,844.1 615.7,846.8 613.2,849.8 610.0,852.0 606.7,854.1 604.4,857.3 601.7,860.0 598.0,861.6 591.4,862.7 589.9,859.3 587.0,857.0 582.8,855.0 580.2,858.6 577.0,861.6 572.0,860.6 568.2,860.6 564.8,858.6 561.0,858.4 557.6,856.6 554.4,854.4 551.4,852.0 549.9,848.4 549.0,844.5 553.0,838.7 549.4,837.2 546.1,835.1 542.5,833.7 538.4,832.0 534.0,831.0 532.5,828.7 535.0,825.0 538.1,822.9 541.7,822.0 543.3,818.5 545.0,815.0 541.7,810.0 537.8,809.2 533.9,809.5 530.0,810.0 526.4,807.0 523.0,803.7Z"/>
<path fill="#fbdcc1" d="M596.7,712.7 600.5,710.0 603.0,706.0 606.1,703.9 609.9,703.1 613.0,701.0 618.1,700.7 623.0,699.5 628.0,701.2 633.0,702.7 637.5,705.6 641.7,709.0 648.0,706.0 651.7,707.1 655.0,709.0 658.5,706.7 661.7,704.0 665.0,709.0 670.0,712.7 670.9,717.9 673.0,722.7 673.2,727.7 673.0,732.7 671.2,737.2 668.0,741.0 665.8,744.7 665.0,749.0 666.7,752.0 668.6,756.4 671.7,760.0 672.2,765.0 673.0,770.0 673.3,774.1 672.2,778.0 671.7,782.0 673.0,788.0 666.7,790.0 662.8,789.6 658.9,789.5 655.0,788.7 651.0,790.8 647.0,792.9 643.0,795.0 643.0,797.0 638.1,799.0 633.0,800.0 629.3,799.1 626.2,796.8 623.0,795.0 625.9,791.7 629.5,788.9 631.7,785.0 630.0,778.7 627.8,775.7 624.8,773.3 623.0,770.0 618.0,770.7 613.0,770.0 609.1,771.4 604.9,772.2 601.0,773.7 601.2,769.8 600.9,765.9 601.7,762.0 600.9,757.5 600.0,753.0 596.7,752.0 599.0,746.0 598.3,742.0 599.0,737.9 598.0,734.0 598.5,730.2 597.8,726.5 597.5,722.7 597.5,717.7Z"/>
<path fill="#fbdcc1" d="M623.0,637.6 616.2,639.0 611.0,639.8 607.1,639.6 603.3,638.7 598.8,639.8 603.3,642.0 604.8,646.7 608.0,651.0 601.7,654.0 600.9,659.0 600.0,664.0 602.3,667.6 605.0,670.9 608.0,674.0 608.2,678.5 610.0,682.7 606.8,686.1 603.0,689.0 598.9,689.4 595.0,691.0 590.8,692.4 586.7,694.0 584.9,698.8 585.0,704.0 588.9,707.0 591.7,711.0 596.7,712.7 600.5,710.0 603.0,706.0 606.1,703.9 609.9,703.1 613.0,701.0 618.1,700.7 623.0,699.5 628.0,701.2 633.0,702.7 637.5,705.6 641.7,709.0 648.0,706.0 651.7,707.1 655.0,709.0 658.5,706.7 661.7,704.0 665.0,709.0 670.0,712.7 673.3,710.5 677.0,708.7 680.0,706.0 685.2,704.8 690.0,702.7 693.9,702.1 697.8,701.7 701.7,701.0 700.0,696.0 697.5,692.4 696.6,688.0 695.0,684.0 700.0,679.0 695.5,677.0 691.7,674.0 690.0,667.7 685.0,669.0 680.9,668.3 676.7,667.7 671.6,666.2 666.7,664.0 663.0,659.0 660.0,654.0 656.3,653.6 652.5,652.8 648.8,652.9 645.0,653.0 641.0,652.2 636.9,652.1 633.0,651.0 629.0,648.0 626.0,642.9Z"/>
<path fill="#ead5fd" d="M540.0,725.0 545.0,721.0 541.9,717.2 540.0,712.7 537.5,706.0 539.6,702.1 540.0,697.7 541.7,694.5 543.0,691.0 546.2,693.3 550.0,694.0 554.0,695.0 557.8,696.4 561.7,697.7 565.2,695.7 568.0,692.7 570.6,689.4 573.0,686.0 575.2,682.9 575.4,679.0 576.8,675.6 579.2,672.7 580.0,669.0 581.1,664.9 583.0,661.0 587.3,661.9 591.7,662.7 595.7,664.0 600.0,664.0 602.3,667.6 605.0,670.9 608.0,674.0 608.2,678.5 610.0,682.7 606.8,686.1 603.0,689.0 598.9,689.4 595.0,691.0 590.8,692.4 586.7,694.0 584.9,698.8 585.0,704.0 588.9,707.0 591.7,711.0 596.7,712.7 597.5,717.7 597.5,722.7 597.8,726.5 598.5,730.2 598.0,734.0 593.9,732.9 590.0,731.0 587.7,727.7 584.3,725.6 581.7,722.7 577.5,721.0 573.4,719.0 570.0,716.0 566.5,717.3 563.4,719.4 560.4,721.7 556.7,722.7 552.4,722.5 548.4,724.5 544.2,724.5Z"/>
<path fill="#ead5fd" d="M540.0,725.0 544.2,724.5 548.4,724.5 552.4,722.5 556.7,722.7 560.4,721.7 563.4,719.4 566.5,717.3 570.0,716.0 573.4,719.0 577.5,721.0 581.7,722.7 584.3,725.6 587.7,727.7 590.0,731.0 593.9,732.9 598.0,734.0 599.0,737.9 598.3,742.0 599.0,746.0 596.7,752.0 600.0,753.0 600.9,757.5 601.7,762.0 600.9,765.9 601.2,769.8 601.0,773.7 596.7,778.7 593.0,779.7 589.8,781.5 586.7,783.7 580.0,785.0 575.1,786.6 570.0,787.0 566.1,785.0 563.0,782.0 556.7,785.0 554.3,788.1 551.4,790.8 549.0,793.9 546.7,797.0 543.4,798.6 540.0,800.0 537.1,797.8 533.9,796.2 530.8,794.3 528.0,792.0 524.0,795.3 520.0,798.7 518.0,792.0 523.0,787.0 519.3,783.2 516.7,778.7 518.1,774.2 520.0,770.0 521.7,763.7 516.7,758.7 512.4,758.0 508.0,758.7 506.7,752.0 508.0,746.0 511.7,743.7 514.9,740.7 519.0,739.0 519.8,734.5 520.8,730.0 520.0,724.0 520.8,729.2 523.0,734.0 527.4,733.4 531.7,734.0 534.6,731.1 537.9,728.6Z"/>
<path fill="#c832c3" d="M421.7,639.0 421.2,635.3 420.0,631.8 423.1,628.3 425.0,624.0 424.4,618.8 422.5,614.0 426.1,610.2 430.8,607.7 434.6,608.8 438.0,611.0 439.0,615.4 441.0,619.5 441.7,624.0 444.0,627.7 446.7,631.0 450.6,634.3 455.0,636.8 458.0,633.5 461.7,639.0 463.7,642.8 466.7,646.0 469.6,643.2 473.0,641.0 478.0,641.0 478.0,636.0 481.4,634.2 485.0,632.7 490.0,629.0 491.1,624.9 493.0,621.0 496.0,617.0 500.0,614.0 506.7,612.7 508.9,616.6 510.0,621.0 513.3,622.7 516.7,624.0 520.0,625.5 521.2,629.6 523.8,633.0 523.5,636.8 523.0,640.6 527.6,645.0 531.3,646.8 535.2,648.0 538.6,645.0 541.2,641.4 543.0,642.7 550.0,644.0 554.5,645.3 558.4,648.2 563.0,649.0 566.5,650.3 569.9,651.9 573.0,654.0 577.1,656.9 581.7,659.0 583.0,661.0 581.1,664.9 580.0,669.0 579.2,672.7 576.8,675.6 575.4,679.0 575.2,682.9 573.0,686.0 570.6,689.4 568.0,692.7 565.2,695.7 561.7,697.7 557.8,696.4 554.0,695.0 550.0,694.0 546.2,693.3 543.0,691.0 541.7,694.5 540.0,697.7 539.6,702.1 537.5,706.0 540.0,712.7 541.9,717.2 545.0,721.0 540.0,725.0 537.9,728.6 534.6,731.1 531.7,734.0 527.4,733.4 523.0,734.0 520.8,729.2 520.0,724.0 516.0,722.5 511.7,722.7 510.6,727.2 508.0,731.0 505.2,734.7 501.7,737.7 499.5,742.0 496.7,746.0 495.0,752.0 496.7,758.7 495.5,762.2 493.0,765.0 488.7,766.0 484.4,766.8 480.0,767.0 476.8,764.7 473.0,763.7 471.2,760.3 470.7,756.7 470.0,753.0 466.7,752.0 465.0,748.6 464.0,744.9 462.5,741.4 461.7,737.7 458.3,734.4 455.0,731.0 454.1,726.5 451.7,722.7 449.5,719.7 448.1,716.2 446.7,712.7 441.7,716.0 438.8,712.3 437.0,708.0 437.4,704.0 437.7,699.9 439.0,696.0 438.7,691.7 439.9,687.5 438.9,683.2 440.0,679.0 438.1,674.1 436.7,669.0 438.0,664.0 437.1,659.9 433.9,656.8 433.0,652.7 431.3,647.8 430.0,642.7 425.6,641.4Z"/>
<path fill="#ead5fd" d="M420.9,724.4 425.8,724.5 430.5,723.0 431.1,717.8 431.7,712.5 437.0,708.0 438.8,712.3 441.7,716.0 446.7,712.7 448.1,716.2 449.5,719.7 451.7,722.7 454.1,726.5 455.0,731.0 458.3,734.4 461.7,737.7 462.5,741.4 464.0,744.9 465.0,748.6 466.7,752.0 470.0,753.0 470.7,756.7 471.2,760.3 473.0,763.7 476.8,764.7 480.0,767.0 484.4,766.8 488.7,766.0 493.0,765.0 495.5,762.2 496.7,758.7 495.0,752.0 496.7,746.0 499.5,742.0 501.7,737.7 505.2,734.7 508.0,731.0 510.6,727.2 511.7,722.7 516.0,722.5 520.0,724.0 520.8,730.0 519.8,734.5 519.0,739.0 514.9,740.7 511.7,743.7 508.0,746.0 506.7,752.0 508.0,758.7 512.4,758.0 516.7,758.7 521.7,763.7 520.0,770.0 518.1,774.2 516.7,778.7 519.3,783.2 523.0,787.0 518.0,792.0 520.0,798.7 523.0,803.7 526.4,807.0 530.0,810.0 533.9,809.5 537.8,809.2 541.7,810.0 545.0,815.0 543.3,818.5 541.7,822.0 538.1,822.9 535.0,825.0 532.5,828.7 530.8,825.0 526.7,825.8 523.0,827.8 519.0,832.0 514.5,832.8 510.0,833.7 506.7,839.5 503.5,837.3 500.8,834.5 495.8,833.7 492.4,835.7 490.0,838.7 485.5,836.3 481.7,832.8 476.7,837.0 472.4,836.4 468.0,837.0 465.8,842.0 467.7,846.8 468.0,852.0 468.2,857.0 467.5,862.0 462.9,861.2 459.0,858.7 458.1,854.0 456.7,849.5 452.3,850.6 448.0,852.0 444.0,851.7 440.0,852.0 437.2,849.0 434.6,845.8 433.0,842.0 428.4,840.5 424.0,838.7 426.3,835.7 427.5,832.0 428.8,826.9 430.8,822.0 427.4,818.7 423.0,817.0 420.6,812.3 420.0,807.0 423.0,801.0 419.2,800.9 415.5,799.8 411.7,799.5 406.8,801.0 401.7,802.0 404.0,797.0 402.6,793.0 403.0,788.7 405.3,785.7 406.4,782.0 408.0,778.7 410.1,775.6 413.4,773.5 415.0,770.0 418.5,766.0 423.0,763.0 425.0,758.5 426.9,754.0 426.3,749.6 428.1,745.2 427.9,740.8 427.5,736.4 422.0,734.0 422.3,729.1Z"/>
<path fill="#c832c3" d="M696.0,487.0 700.0,491.5 707.0,493.0 705.0,498.0 703.0,503.0 697.0,505.0 690.0,505.0 684.0,507.0 686.0,501.0 688.0,496.5 692.0,492.0Z"/>
<path fill="#ead5fd" d="M590.0,893.0 593.5,891.3 596.2,888.2 600.0,887.0 603.9,886.1 608.0,886.1 612.0,886.0 617.0,887.6 622.0,889.0 624.4,892.1 625.0,896.0 623.0,899.5 621.0,903.0 617.4,907.0 616.2,910.6 614.0,913.6 610.8,917.6 606.6,920.6 603.2,922.6 600.0,925.0 596.0,922.7 591.4,922.0 587.9,919.4 583.9,918.0 582.5,913.6 582.0,909.0 582.8,903.9 584.9,900.7 586.0,897.0Z"/>
<path fill="#e9e9e9" d="M795.0,779.5 797.0,782.7 800.0,785.0 800.2,788.7 800.5,792.4 799.5,796.0 799.2,799.7 798.5,803.3 798.0,807.0 796.8,810.7 796.2,814.4 796.6,818.4 795.0,822.0 793.0,825.2 791.5,828.6 790.0,832.0 790.9,836.0 790.5,840.0 789.0,844.5 786.0,840.0 783.0,837.0 781.6,833.2 778.2,830.7 776.7,827.0 775.0,823.0 774.0,818.7 774.7,814.8 776.3,811.0 776.7,807.0 778.6,802.9 781.0,799.0 783.0,795.0 785.2,791.2 787.4,787.3 790.0,783.7Z"/>
<path fill="none" stroke-width="2.6" d="M762.0,654.3 766.0,652.3 770.0,654.5 775.0,657.0 780.0,659.0 785.2,660.3"/>
</g>
<g class="lb">
<text x="838.2" y="345.1">黑龙江</text>
<text x="820.2" y="414.6">吉林</text>
<text x="777.7" y="454.1">辽宁</text>
<text x="711.2" y="468.6">北京</text>
<text x="756.2" y="514.6">天津</text>
<text x="682.2" y="524.1">河北</text>
<text x="576.7" y="481.6">内蒙古</text>
<text x="267.2" y="439.6">新疆</text>
<text x="557.7" y="546.6">宁夏</text>
<text x="636.2" y="557.1">山西</text>
<text x="715.2" y="574.1">山东</text>
<text x="403.2" y="566.1">青海</text>
<text x="520.7" y="598.1">甘肃</text>
<text x="582.7" y="617.1">陕西</text>
<text x="653.2" y="617.1">河南</text>
<text x="760.2" y="625.1">江苏</text>
<text x="277.2" y="638.1">西藏</text>
<text x="487.2" y="670.1">四川</text>
<text x="712.7" y="652.1">安徽</text>
<text x="824.7" y="659.1">上海</text>
<text x="637.2" y="672.1">湖北</text>
<text x="571.2" y="689.1">重庆</text>
<text x="768.2" y="704.1">浙江</text>
<text x="699.2" y="729.1">江西</text>
<text x="633.2" y="739.1">湖南</text>
<text x="554.2" y="753.1">贵州</text>
<text x="737.2" y="781.1">福建</text>
<text x="463.2" y="789.1">云南</text>
<text x="794.2" y="803.1">台湾</text>
<text x="577.2" y="808.1">广西</text>
<text x="664.2" y="810.1">广东</text>
<text x="732.2" y="849.1">香港</text>
<text x="668.2" y="869.1">澳门</text>
<text x="601.2" y="900.1">海南</text>
</g>
<g class="lb">
<text x="1663.5" y="345.1">黑龙江</text>
<text x="1645.5" y="414.6">吉林</text>
<text x="1603.0" y="454.1">辽宁</text>
<text x="1536.5" y="468.6">北京</text>
<text x="1581.5" y="514.6">天津</text>
<text x="1507.5" y="524.1">河北</text>
<text x="1402.0" y="481.6">内蒙古</text>
<text x="1092.5" y="439.6">新疆</text>
<text x="1383.0" y="546.6">宁夏</text>
<text x="1461.5" y="557.1">山西</text>
<text x="1540.5" y="574.1">山东</text>
<text x="1228.5" y="566.1">青海</text>
<text x="1346.0" y="598.1">甘肃</text>
<text x="1408.0" y="617.1">陕西</text>
<text x="1478.5" y="617.1">河南</text>
<text x="1585.5" y="625.1">江苏</text>
<text x="1102.5" y="638.1">西藏</text>
<text x="1312.5" y="670.1">四川</text>
<text x="1538.0" y="652.1">安徽</text>
<text x="1645.7" y="682.1">上海</text>
<text x="1462.5" y="672.1">湖北</text>
<text x="1396.5" y="689.1">重庆</text>
<text x="1593.5" y="704.1">浙江</text>
<text x="1524.5" y="729.1">江西</text>
<text x="1458.5" y="739.1">湖南</text>
<text x="1379.5" y="753.1">贵州</text>
<text x="1562.5" y="781.1">福建</text>
<text x="1288.5" y="789.1">云南</text>
<text x="1619.5" y="803.1">台湾</text>
<text x="1402.5" y="808.1">广西</text>
<text x="1489.5" y="810.1">广东</text>
<text x="1557.5" y="849.1">香港</text>
<text x="1493.5" y="869.1">澳门</text>
<text x="1426.5" y="900.1">海南</text>
</g>
<rect x="212.5" y="755.3" width="42.7" height="34.6" fill="#ead5fd"/>
<path d="M255.2,755.3h10.3l-10.3,11.5z" fill="#008000"/>
<text class="lg" x="259.5" y="782.4">0%~2%</text>
<rect x="212.5" y="789.6" width="42.7" height="35.9" fill="#fbdcc1"/>
<path d="M255.2,791.3h10.3l-10.3,11.5z" fill="#008000"/>
<text class="lg" x="259.5" y="818.4">2%~5%</text>
<rect x="212.5" y="825.2" width="42.7" height="36.3" fill="#c832c3"/>
<path d="M255.2,827.3h10.3l-10.3,11.5z" fill="#008000"/>
<text class="lg" x="259.5" y="854.4">5%~7%</text>
<rect x="212.5" y="861.2" width="42.7" height="35.5" fill="#862286"/>
<path d="M255.2,863.3h10.3l-10.3,11.5z" fill="#008000"/>
<text class="lg" x="259.5" y="890.4">7%~9%</text>
<rect x="212.5" y="896.4" width="42.7" height="38.0" fill="#54002b"/>
<path d="M255.2,899.3h10.3l-10.3,11.5z" fill="#008000"/>
<text class="lg" x="259.5" y="926.4">9%+</text>
<rect x="1052" y="748.9" width="42.7" height="34.6" fill="#ead5fd"/>
<path d="M1094.7,748.9h10.3l-10.3,11.5z" fill="#008000"/>
<text class="lg" x="1099" y="776.0">0%~2%</text>
<rect x="1052" y="783.2" width="42.7" height="35.9" fill="#fbdcc1"/>
<path d="M1094.7,784.9h10.3l-10.3,11.5z" fill="#008000"/>
<text class="lg" x="1099" y="812.0">2%~4%</text>
<rect x="1052" y="818.8" width="42.7" height="36.3" fill="#c832c3"/>
<path d="M1094.7,820.9h10.3l-10.3,11.5z" fill="#008000"/>
<text class="lg" x="1099" y="848.0">4%~7%</text>
<rect x="1052" y="854.8" width="42.7" height="35.5" fill="#862286"/>
<path d="M1094.7,856.9h10.3l-10.3,11.5z" fill="#008000"/>
<text class="lg" x="1099" y="884.0">7%~9%</text>
<rect x="1052" y="890.0" width="42.7" height="38.0" fill="#54002b"/>
<path d="M1094.7,892.9h10.3l-10.3,11.5z" fill="#008000"/>
<text class="lg" x="1099" y="920.0">9%+</text>
</svg>
<div id="title">语言培训用户主要分布在经济相对发达的省份，如北京<span class="sl">/</span>广东<span class="sl">/</span>上海</div>
<div id="sub">PC流量和Mobile流量集中地域差异不大，但四川/河南在移动端流量超过PC</div>
<div class="mt" style="left:463.5px">PC端流量地域分布</div>
<div class="mt" style="left:1378.5px">移动端流量地域分布</div>
</body></html>
